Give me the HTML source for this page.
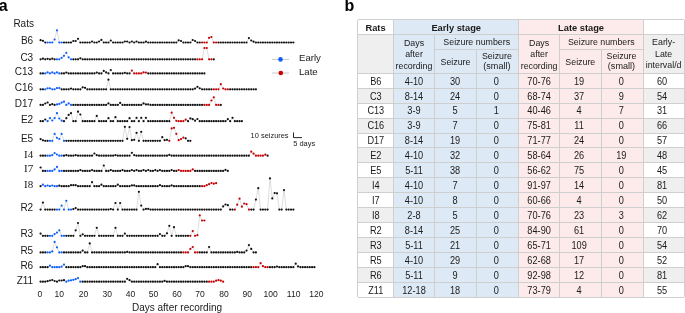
<!DOCTYPE html>
<html><head><meta charset="utf-8"><style>
html,body{margin:0;padding:0;background:#fff;}
svg{display:block;will-change:transform;}
text{font-family:"Liberation Sans",sans-serif;fill:#1a1a1a;}
.pl{font-size:16px;font-weight:bold;fill:#000;}
.lb{font-size:10px;}
.lbs{font-size:11px;font-family:"Liberation Serif",serif;}
.tk{font-size:8.5px;}
.ax{font-size:10px;}
.lg{font-size:9.6px;}
.sb{font-size:8px;}
.th{font-size:9.3px;font-weight:bold;}
.td{font-size:10px;}
.tdh{font-size:9.6px;}
</style></head>
<body>
<svg width="685" height="313" viewBox="0 0 685 313">
<rect width="685" height="313" fill="#fff"/>
<text x="-1.3" y="11.2" class="pl">a</text>
<text x="344.6" y="11.2" class="pl">b</text>
<text x="13.4" y="26.8" class="lb">Rats</text>
<g fill="none" stroke="#c8c8c8" stroke-width="0.6">
<polyline points="40.57,40.20 42.91,40.80 45.25,42.50 47.59,42.50 49.93,42.50 52.27,42.50 54.61,39.50 56.96,30.30 59.30,42.50 61.64,42.50 63.98,42.50 66.32,42.50 68.66,42.50 71.00,42.50 73.34,41.00 75.68,41.00 78.02,38.80 80.36,42.50 82.70,42.50 85.04,42.50 87.38,42.50 89.73,42.50 92.07,41.50 94.41,42.50 96.75,42.50 99.09,41.50 101.43,39.90 103.77,42.50 106.11,42.50 108.45,42.50 110.79,40.50 113.13,42.50 115.47,42.50 117.81,42.50 120.15,42.50 122.50,42.50 124.84,41.50 127.18,41.50 129.52,42.50 131.86,41.50 134.20,42.50 136.54,41.50 138.88,42.50 141.22,42.50 143.56,42.50 145.90,41.70 148.24,42.50 150.58,42.50 152.92,42.50 155.26,42.50 157.61,42.50 159.95,42.50 162.29,42.50 164.63,42.50 166.97,42.50 169.31,42.50 171.65,42.50 173.99,42.50 176.33,42.50 178.67,40.30 181.01,41.00 183.35,42.50 185.69,42.50 188.03,42.50 190.38,42.50 192.72,40.00 195.06,41.00 197.40,42.50 199.74,42.50 202.08,42.50 204.42,42.50 206.76,42.50 209.10,37.80 211.44,37.00 213.78,42.50 216.12,42.50 218.46,42.50 220.80,42.50 223.15,42.50 225.49,42.50 227.83,42.50 230.17,42.50 232.51,42.50 234.85,42.50 237.19,42.50 239.53,42.50 241.87,42.50 244.21,42.50 246.55,42.50 248.89,38.10 251.23,40.50 253.57,41.70 255.92,42.50 258.26,42.50 260.60,42.50 262.94,42.50 265.28,42.50 267.62,42.50 269.96,42.50 272.30,42.50 274.64,42.50 276.98,42.50 279.32,42.50 281.66,42.50 284.00,42.50 286.34,42.50 288.68,42.50 291.03,42.50 293.37,42.50"/>
<polyline points="40.57,59.30 42.91,58.70 45.25,59.30 47.59,58.80 49.93,59.30 52.27,58.70 54.61,59.30 56.96,59.30 59.30,59.30 61.64,57.80 63.98,55.80 66.32,52.80 68.66,57.30 71.00,59.30 73.34,59.30 75.68,59.30 78.02,59.30 80.36,58.30 82.70,59.30 85.04,59.30 87.38,59.30 89.73,59.30 92.07,59.30 94.41,59.30 96.75,59.30 99.09,59.30 101.43,59.30 103.77,59.30 106.11,59.30 108.45,59.30 110.79,59.30 113.13,59.30 115.47,59.30 117.81,59.30 120.15,59.30 122.50,59.30 124.84,59.30 127.18,59.30 129.52,59.30 131.86,59.30 134.20,59.30 136.54,59.30 138.88,59.30 141.22,59.30 143.56,59.30 145.90,59.30 148.24,59.30 150.58,59.30 152.92,59.30 155.26,59.30 157.61,59.30 159.95,59.30 162.29,59.30 164.63,59.30 166.97,59.30 169.31,59.30 171.65,59.30 173.99,59.30 176.33,59.30 178.67,59.30 181.01,59.30 183.35,59.30 185.69,59.30 188.03,59.30 190.38,59.30 192.72,59.30 195.06,59.30 197.40,59.30 199.74,59.30 202.08,59.30 204.42,48.00 206.76,48.00 209.10,59.30 211.44,59.30 213.78,59.30"/>
<polyline points="40.57,73.40 42.91,73.40 45.25,73.40 47.59,72.40 49.93,73.40 52.27,72.40 54.61,73.40 56.96,72.40 59.30,73.40 61.64,73.40 63.98,73.40 66.32,72.60 68.66,73.40 71.00,73.40 73.34,73.40 75.68,73.40 78.02,73.40 80.36,73.40 82.70,73.40 85.04,73.40 87.38,73.40 89.73,73.40 92.07,73.40 94.41,73.40 96.75,72.60 99.09,73.40 101.43,73.40 103.77,70.90 106.11,72.40 108.45,73.40 110.79,70.00 113.13,73.40 115.47,73.40 117.81,73.40 120.15,73.40 122.50,73.40 124.84,72.80 127.18,73.40 129.52,73.40 131.86,70.60 134.20,73.40 136.54,73.40 138.88,73.40 141.22,73.40 143.56,72.40 145.90,72.60 148.24,73.40 150.58,73.40 152.92,73.40 155.26,73.40 157.61,73.40 159.95,73.40 162.29,73.40 164.63,73.40 166.97,73.40 169.31,73.40 171.65,73.40 173.99,73.40 176.33,73.40 178.67,73.40 181.01,73.40 183.35,73.40 185.69,73.40 188.03,73.40 190.38,73.40 192.72,73.40 195.06,73.40 197.40,73.40 199.74,73.40 202.08,73.40 204.42,73.40"/>
<polyline points="40.57,89.30 42.91,89.30 45.25,89.30 47.59,88.30 49.93,88.30 52.27,89.30 54.61,89.30 56.96,88.10 59.30,88.10 61.64,89.30 63.98,89.30 66.32,89.30 68.66,89.30 71.00,88.60 73.34,89.30 75.68,89.30 78.02,89.30 80.36,89.30 82.70,87.30 85.04,87.80 87.38,89.30 89.73,89.30 92.07,89.30 94.41,89.30 96.75,89.30 99.09,89.30 101.43,89.30 103.77,89.30 106.11,89.30 108.45,79.70 110.79,89.30 113.13,89.30 115.47,89.30 117.81,89.30 120.15,89.30 122.50,89.30 124.84,89.30 127.18,89.30 129.52,89.30 131.86,89.30 134.20,89.30 136.54,89.30 138.88,89.30 141.22,89.30 143.56,89.30 145.90,89.30 148.24,89.30 150.58,89.30 152.92,89.30 155.26,89.30 157.61,89.30 159.95,89.30 162.29,89.30 164.63,89.30 166.97,89.30 169.31,89.30 171.65,89.30 173.99,89.30 176.33,89.30 178.67,89.30 181.01,89.30 183.35,89.30 185.69,89.30 188.03,89.30 190.38,89.30 192.72,89.30 195.06,88.60 197.40,86.80 199.74,88.30 202.08,89.30 204.42,89.30 206.76,89.30 209.10,89.30 211.44,89.30 213.78,89.30 216.12,89.30 218.46,89.30 220.80,84.20 223.15,88.50 225.49,89.30 227.83,89.30 230.17,89.30 232.51,89.30 234.85,89.30 237.19,89.30 239.53,89.30 241.87,89.30 244.21,89.30 246.55,89.30 248.89,89.30 251.23,89.30 253.57,89.30 255.92,89.30"/>
<polyline points="40.57,104.90 42.91,104.90 45.25,103.50 47.59,102.50 49.93,104.90 52.27,104.20 54.61,104.90 56.96,104.40 59.30,103.90 61.64,102.60 63.98,101.70 66.32,104.90 68.66,103.40 71.00,104.90 73.34,104.90 75.68,104.90 78.02,104.90 80.36,104.90 82.70,104.90 85.04,104.90 87.38,104.90 89.73,104.90 92.07,104.90 94.41,104.90 96.75,104.90 99.09,104.90 101.43,104.90 103.77,104.90 106.11,104.90 108.45,103.40 110.79,104.90 113.13,104.90 115.47,104.90 117.81,104.90 120.15,102.90 122.50,104.90 124.84,104.90 127.18,104.90 129.52,104.90 131.86,104.90 134.20,104.90 136.54,104.90 138.88,104.90 141.22,104.90 143.56,103.40 145.90,104.40 148.24,104.40 150.58,104.90 152.92,104.90 155.26,104.90 157.61,104.90 159.95,104.90 162.29,104.90 164.63,104.90 166.97,104.90 169.31,104.90 171.65,104.90 173.99,104.90 176.33,104.90 178.67,104.90 181.01,104.90 183.35,104.90 185.69,104.90 188.03,104.90 190.38,104.90 192.72,104.90 195.06,104.90 197.40,104.90 199.74,104.90 202.08,104.90 204.42,104.90 206.76,104.90 209.10,104.90 211.44,100.50 213.78,97.30 216.12,104.90 218.46,104.90 220.80,104.90"/>
<polyline points="40.57,121.20 42.91,121.20 45.25,119.50 47.59,121.20 49.93,118.20 52.27,120.50 54.61,118.20 56.96,113.20 59.30,118.50 61.64,120.70 63.98,121.20 66.32,118.20 68.66,114.90 71.00,113.20 73.34,121.20 75.68,121.20 78.02,111.70 80.36,114.50 82.70,121.20 85.04,121.20 87.38,121.20 89.73,121.20 92.07,121.20 94.41,121.20 96.75,115.90 99.09,121.20 101.43,121.20 103.77,121.20 106.11,121.20 108.45,118.20 110.79,121.20 113.13,121.20 115.47,117.20 117.81,121.20 120.15,121.20 122.50,121.20 124.84,121.20 127.18,121.20 129.52,118.20 131.86,121.20 134.20,121.20 136.54,117.80 138.88,121.20 141.22,117.80 143.56,121.20 145.90,117.80 148.24,121.20 150.58,121.20 152.92,121.20 155.26,121.20 157.61,121.20 159.95,121.20 162.29,121.20 164.63,121.20 166.97,121.20 169.31,121.20 171.65,112.70 173.99,117.80 176.33,120.80 178.67,121.20 181.01,121.20 183.35,121.20 185.69,119.70 188.03,121.20 190.38,118.40 192.72,119.20 195.06,120.70 197.40,119.00 199.74,121.20 202.08,121.20 204.42,121.20 206.76,121.20 209.10,121.20 211.44,121.20 213.78,121.20 216.12,121.20 218.46,121.20 220.80,121.20 223.15,121.20 225.49,121.20 227.83,119.20 230.17,121.20 232.51,117.80 234.85,121.20 237.19,121.20 239.53,121.20 241.87,121.20"/>
<polyline points="40.57,139.10 42.91,140.30 45.25,140.80 47.59,140.80 49.93,140.80 52.27,140.80 54.61,133.90 56.96,137.80 59.30,139.00 61.64,133.90 63.98,140.80 66.32,140.80 68.66,140.80 71.00,140.80 73.34,140.80 75.68,140.80 78.02,140.80 80.36,140.80 82.70,140.80 85.04,140.80 87.38,140.80 89.73,140.80 92.07,140.80 94.41,140.80 96.75,140.80 99.09,140.80 101.43,140.80 103.77,140.80 106.11,140.80 108.45,140.80 110.79,140.80 113.13,140.80 115.47,140.80 117.81,140.80 120.15,140.80 122.50,140.80 124.84,126.80 127.18,138.80 129.52,127.10 131.86,140.20 134.20,139.80 136.54,132.80 138.88,140.80 141.22,131.80 143.56,140.80 145.90,140.80 148.24,140.80 150.58,140.80 152.92,140.80 155.26,140.80 157.61,140.80 159.95,140.80 162.29,137.20 164.63,140.20 166.97,139.80 169.31,140.80 171.65,128.40 173.99,127.80 176.33,133.80 178.67,140.20 181.01,139.10 183.35,137.60 185.69,138.30 188.03,140.80 190.38,140.80"/>
<polyline points="40.57,155.70 42.91,155.70 45.25,155.70 47.59,155.70 49.93,155.70 52.27,155.20 54.61,153.10 56.96,154.50 59.30,155.70 61.64,155.70 63.98,155.70 66.32,155.20 68.66,155.70 71.00,155.70 73.34,155.70 75.68,155.20 78.02,155.70 80.36,155.70 82.70,155.70 85.04,155.70 87.38,155.70 89.73,155.70 92.07,155.70 94.41,153.50 96.75,155.20 99.09,155.70 101.43,155.70 103.77,155.70 106.11,155.70 108.45,155.70 110.79,155.70 113.13,155.70 115.47,155.20 117.81,155.70 120.15,155.70 122.50,155.70 124.84,155.70 127.18,155.70 129.52,155.70 131.86,152.80 134.20,155.20 136.54,155.70 138.88,155.70 141.22,155.70 143.56,155.70 145.90,155.70 148.24,155.70 150.58,155.70 152.92,155.70 155.26,155.70 157.61,155.70 159.95,155.70 162.29,155.70 164.63,155.70 166.97,155.70 169.31,154.90 171.65,155.70 173.99,155.70 176.33,155.70 178.67,155.70 181.01,155.70 183.35,155.70 185.69,155.70 188.03,155.70 190.38,155.70 192.72,155.70 195.06,155.70 197.40,155.70 199.74,155.70 202.08,155.70 204.42,155.70 206.76,155.70 209.10,155.70 211.44,155.70 213.78,155.70 216.12,155.70 218.46,155.70 220.80,155.70 223.15,155.70 225.49,155.70 227.83,155.70 230.17,155.70 232.51,155.70 234.85,155.70 237.19,155.70 239.53,155.70 241.87,155.70 244.21,155.70 246.55,155.70 248.89,155.70 251.23,151.70 253.57,153.70 255.92,155.70 258.26,155.70 260.60,155.70 262.94,155.70 265.28,154.70 267.62,155.70"/>
<polyline points="40.57,167.50 42.91,170.90 45.25,170.90 47.59,170.90 49.93,170.90 52.27,170.90 54.61,169.40 56.96,166.90 59.30,170.90 61.64,170.90 63.98,170.90 66.32,170.90 68.66,170.90 71.00,170.90 73.34,170.90 75.68,170.90 78.02,170.90 80.36,170.10 82.70,170.90 85.04,170.90 87.38,170.90 89.73,170.90 92.07,170.10 94.41,170.90 96.75,170.90 99.09,170.90 101.43,170.90 103.77,165.50 106.11,170.90 108.45,170.90 110.79,170.10 113.13,170.90 115.47,170.90 117.81,170.90 120.15,170.90 122.50,170.10 124.84,170.90 127.18,170.90 129.52,170.90 131.86,170.10 134.20,170.90 136.54,170.10 138.88,170.90 141.22,170.90 143.56,170.10 145.90,170.90 148.24,170.10 150.58,170.90 152.92,170.90 155.26,170.10 157.61,170.90 159.95,170.10 162.29,170.90 164.63,170.90 166.97,170.90 169.31,170.90 171.65,170.10 173.99,170.90 176.33,170.90 178.67,170.10 181.01,170.90 183.35,170.90 185.69,170.90 188.03,170.90 190.38,170.90 192.72,169.40 195.06,170.90 197.40,170.90 199.74,170.90 202.08,170.90 204.42,170.90 206.76,170.90 209.10,170.90 211.44,170.90 213.78,170.90 216.12,170.90 218.46,170.90 220.80,170.90 223.15,170.90 225.49,169.90 227.83,170.90"/>
<polyline points="40.57,186.20 42.91,184.70 45.25,186.20 47.59,185.50 49.93,186.20 52.27,185.50 54.61,186.20 56.96,186.20 59.30,185.70 61.64,186.20 63.98,186.20 66.32,186.20 68.66,186.20 71.00,185.20 73.34,185.20 75.68,185.20 78.02,186.20 80.36,186.20 82.70,186.20 85.04,186.20 87.38,186.20 89.73,186.20 92.07,182.20 94.41,186.20 96.75,186.20 99.09,186.20 101.43,184.70 103.77,186.20 106.11,186.20 108.45,186.20 110.79,186.20 113.13,186.20 115.47,186.20 117.81,184.70 120.15,186.20 122.50,186.20 124.84,186.20 127.18,186.20 129.52,186.20 131.86,185.40 134.20,185.40 136.54,186.20 138.88,186.20 141.22,186.20 143.56,186.20 145.90,186.20 148.24,186.20 150.58,186.20 152.92,186.20 155.26,186.20 157.61,186.20 159.95,185.20 162.29,186.20 164.63,186.20 166.97,186.20 169.31,186.20 171.65,185.40 173.99,186.20 176.33,186.20 178.67,186.20 181.01,186.20 183.35,186.20 185.69,186.20 188.03,186.20 190.38,186.20 192.72,186.20 195.06,186.20 197.40,186.20 199.74,186.20 202.08,186.20 204.42,186.20 206.76,185.20 209.10,184.20 211.44,183.00 213.78,183.70 216.12,183.20"/>
<polyline points="40.57,209.60 42.91,202.60 45.25,209.60 47.59,209.60 49.93,209.60 52.27,209.60 54.61,209.60 56.96,209.60 59.30,209.60 61.64,205.60 63.98,209.60 66.32,200.80 68.66,209.60 71.00,209.60 73.34,209.10 75.68,208.10 78.02,209.60 80.36,209.60 82.70,209.60 85.04,209.60 87.38,209.60 89.73,209.60 92.07,209.60 94.41,209.60 96.75,209.60 99.09,209.60 101.43,209.60 103.77,209.60 106.11,209.60 108.45,209.60 110.79,209.10 113.13,209.60 115.47,203.00 117.81,209.60 120.15,203.00 122.50,209.60 124.84,209.60 127.18,209.60 129.52,209.60 131.86,209.60 134.20,209.60 136.54,209.60 138.88,191.80 141.22,205.60 143.56,209.60 145.90,208.90 148.24,208.90 150.58,209.60 152.92,209.60 155.26,209.60 157.61,209.60 159.95,209.60 162.29,209.60 164.63,209.60 166.97,209.60 169.31,209.60 171.65,209.60 173.99,209.60 176.33,209.60 178.67,209.60 181.01,209.60 183.35,209.60 185.69,209.60 188.03,209.60 190.38,209.60 192.72,209.60 195.06,209.60 197.40,209.60 199.74,209.60 202.08,209.60 204.42,209.60 206.76,209.60 209.10,209.60 211.44,209.60 213.78,209.60 216.12,209.60 218.46,209.60 220.80,209.60 223.15,206.40 225.49,204.50 227.83,205.20 230.17,209.60 232.51,209.60 234.85,209.60 237.19,204.70 239.53,198.70 241.87,206.70 244.21,203.50 246.55,204.20 248.89,209.60 251.23,209.60 253.57,209.60 255.92,199.60 258.26,188.20 260.60,209.60 262.94,209.60 265.28,209.60 267.62,209.60 269.96,178.40 272.30,198.40 274.64,193.00 276.98,193.30 279.32,209.60 281.66,209.60 284.00,190.10 286.34,209.60 288.68,209.60 291.03,209.60 293.37,209.60"/>
<polyline points="40.57,233.60 42.91,235.80 45.25,235.80 47.59,235.80 49.93,235.80 52.27,235.80 54.61,234.10 56.96,232.60 59.30,230.30 61.64,235.80 63.98,235.80 66.32,235.80 68.66,235.80 71.00,235.80 73.34,235.80 75.68,230.30 78.02,223.00 80.36,235.80 82.70,234.30 85.04,235.80 87.38,235.80 89.73,235.80 92.07,235.80 94.41,235.80 96.75,227.80 99.09,235.80 101.43,235.80 103.77,235.80 106.11,235.80 108.45,235.80 110.79,235.80 113.13,235.80 115.47,227.80 117.81,235.80 120.15,235.80 122.50,235.80 124.84,233.60 127.18,235.80 129.52,235.80 131.86,235.80 134.20,235.80 136.54,235.80 138.88,235.80 141.22,235.80 143.56,235.80 145.90,235.80 148.24,235.80 150.58,235.80 152.92,235.80 155.26,235.80 157.61,235.80 159.95,234.10 162.29,235.80 164.63,235.80 166.97,233.30 169.31,225.80 171.65,235.80 173.99,227.20 176.33,235.80 178.67,235.80 181.01,235.80 183.35,235.80 185.69,235.80 188.03,235.80 190.38,235.80 192.72,231.10 195.06,235.80 197.40,235.20 199.74,215.30 202.08,220.50 204.42,220.50"/>
<polyline points="40.57,252.40 42.91,252.40 45.25,252.40 47.59,252.40 49.93,252.40 52.27,251.40 54.61,241.90 56.96,247.30 59.30,252.40 61.64,252.40 63.98,252.40 66.32,252.40 68.66,252.40 71.00,252.40 73.34,252.40 75.68,252.40 78.02,252.40 80.36,252.40 82.70,250.60 85.04,252.40 87.38,252.40 89.73,243.40 92.07,252.40 94.41,252.40 96.75,252.40 99.09,252.40 101.43,252.40 103.77,252.40 106.11,252.40 108.45,252.40 110.79,252.40 113.13,252.40 115.47,252.40 117.81,252.40 120.15,252.40 122.50,252.40 124.84,252.40 127.18,251.90 129.52,252.40 131.86,252.40 134.20,252.40 136.54,252.40 138.88,252.40 141.22,252.40 143.56,252.40 145.90,252.40 148.24,252.40 150.58,252.40 152.92,252.40 155.26,252.40 157.61,252.40 159.95,252.40 162.29,252.40 164.63,252.40 166.97,252.40 169.31,252.40 171.65,252.40 173.99,252.40 176.33,252.40 178.67,252.40 181.01,252.40 183.35,252.40 185.69,252.40 188.03,252.40 190.38,248.90 192.72,247.00 195.06,252.40 197.40,252.40 199.74,252.40 202.08,252.40 204.42,252.40 206.76,252.40 209.10,247.00 211.44,252.40 213.78,252.40 216.12,252.40 218.46,252.40 220.80,252.40 223.15,252.40 225.49,252.40 227.83,252.40 230.17,252.40 232.51,252.40 234.85,252.40 237.19,251.90 239.53,252.40 241.87,252.40 244.21,252.40 246.55,250.60 248.89,245.10 251.23,248.90 253.57,252.40 255.92,252.40"/>
<polyline points="40.57,267.20 42.91,267.20 45.25,267.20 47.59,267.20 49.93,265.70 52.27,267.20 54.61,267.20 56.96,267.20 59.30,267.20 61.64,266.70 63.98,264.60 66.32,267.20 68.66,267.20 71.00,267.20 73.34,267.20 75.68,267.20 78.02,267.20 80.36,267.20 82.70,266.20 85.04,266.20 87.38,267.20 89.73,267.20 92.07,267.20 94.41,267.20 96.75,267.20 99.09,267.20 101.43,267.20 103.77,267.20 106.11,267.20 108.45,267.20 110.79,267.20 113.13,267.20 115.47,267.20 117.81,267.20 120.15,267.20 122.50,267.20 124.84,267.20 127.18,267.20 129.52,267.20 131.86,267.20 134.20,267.20 136.54,267.20 138.88,267.20 141.22,267.20 143.56,267.20 145.90,267.20 148.24,267.20 150.58,267.20 152.92,267.20 155.26,267.20 157.61,264.20 159.95,267.20 162.29,267.20 164.63,267.20 166.97,267.20 169.31,267.20 171.65,267.20 173.99,267.20 176.33,267.20 178.67,267.20 181.01,267.20 183.35,267.20 185.69,266.20 188.03,266.20 190.38,267.20 192.72,267.20 195.06,267.20 197.40,267.20 199.74,267.20 202.08,267.20 204.42,267.20 206.76,267.20 209.10,267.20 211.44,267.20 213.78,267.20 216.12,267.20 218.46,267.20 220.80,267.20 223.15,267.20 225.49,267.20 227.83,267.20 230.17,267.20 232.51,267.20 234.85,267.20 237.19,267.20 239.53,267.20 241.87,267.20 244.21,267.20 246.55,267.20 248.89,267.20 251.23,267.20 253.57,267.20 255.92,267.20 258.26,267.20 260.60,263.20 262.94,266.20 265.28,267.20 267.62,267.20 269.96,267.20 272.30,267.20 274.64,267.20 276.98,266.60 279.32,267.20 281.66,267.20 284.00,267.20 286.34,267.20 288.68,267.20 291.03,267.20 293.37,267.20 295.71,263.70 298.05,266.40 300.39,267.20 302.73,267.20 305.07,267.20 307.41,267.20 309.75,267.20 312.09,267.20 314.43,267.20"/>
<polyline points="40.57,281.70 42.91,281.70 45.25,281.70 47.59,281.20 49.93,280.50 52.27,280.00 54.61,281.00 56.96,281.70 59.30,280.50 61.64,280.50 63.98,280.20 66.32,281.70 68.66,280.70 71.00,280.30 73.34,279.80 75.68,279.20 78.02,278.10 80.36,281.70 82.70,281.70 85.04,281.70 87.38,281.70 89.73,281.70 92.07,281.70 94.41,281.70 96.75,281.70 99.09,281.70 101.43,281.70 103.77,281.70 106.11,281.70 108.45,281.70 110.79,281.70 113.13,281.70 115.47,281.70 117.81,281.70 120.15,281.70 122.50,281.70 124.84,281.70 127.18,278.80 129.52,280.20 131.86,281.70 134.20,281.70 136.54,281.70 138.88,281.70 141.22,281.70 143.56,281.70 145.90,281.70 148.24,281.70 150.58,281.70 152.92,281.70 155.26,281.70 157.61,281.70 159.95,281.70 162.29,281.70 164.63,280.90 166.97,281.70 169.31,281.70 171.65,281.70 173.99,281.70 176.33,281.70 178.67,281.70 181.01,281.70 183.35,281.70 185.69,281.70 188.03,281.70 190.38,281.70 192.72,281.70 195.06,281.70 197.40,281.70 199.74,281.70 202.08,281.70 204.42,281.70 206.76,281.70 209.10,281.70 211.44,281.70 213.78,281.70 216.12,280.70 218.46,280.20 220.80,280.70 223.15,281.70"/>
</g>
<g fill="#111">
<circle cx="40.57" cy="40.20" r="1.10"/>
<circle cx="42.91" cy="40.80" r="1.10"/>
<circle cx="45.25" cy="42.50" r="1.10"/>
<circle cx="63.98" cy="42.50" r="1.10"/>
<circle cx="66.32" cy="42.50" r="1.10"/>
<circle cx="68.66" cy="42.50" r="1.10"/>
<circle cx="71.00" cy="42.50" r="1.10"/>
<circle cx="73.34" cy="41.00" r="1.10"/>
<circle cx="75.68" cy="41.00" r="1.10"/>
<circle cx="78.02" cy="38.80" r="1.10"/>
<circle cx="80.36" cy="42.50" r="1.10"/>
<circle cx="82.70" cy="42.50" r="1.10"/>
<circle cx="85.04" cy="42.50" r="1.10"/>
<circle cx="87.38" cy="42.50" r="1.10"/>
<circle cx="89.73" cy="42.50" r="1.10"/>
<circle cx="92.07" cy="41.50" r="1.10"/>
<circle cx="94.41" cy="42.50" r="1.10"/>
<circle cx="96.75" cy="42.50" r="1.10"/>
<circle cx="99.09" cy="41.50" r="1.10"/>
<circle cx="101.43" cy="39.90" r="1.10"/>
<circle cx="103.77" cy="42.50" r="1.10"/>
<circle cx="106.11" cy="42.50" r="1.10"/>
<circle cx="108.45" cy="42.50" r="1.10"/>
<circle cx="110.79" cy="40.50" r="1.10"/>
<circle cx="113.13" cy="42.50" r="1.10"/>
<circle cx="115.47" cy="42.50" r="1.10"/>
<circle cx="117.81" cy="42.50" r="1.10"/>
<circle cx="120.15" cy="42.50" r="1.10"/>
<circle cx="122.50" cy="42.50" r="1.10"/>
<circle cx="124.84" cy="41.50" r="1.10"/>
<circle cx="127.18" cy="41.50" r="1.10"/>
<circle cx="129.52" cy="42.50" r="1.10"/>
<circle cx="131.86" cy="41.50" r="1.10"/>
<circle cx="134.20" cy="42.50" r="1.10"/>
<circle cx="136.54" cy="41.50" r="1.10"/>
<circle cx="138.88" cy="42.50" r="1.10"/>
<circle cx="141.22" cy="42.50" r="1.10"/>
<circle cx="143.56" cy="42.50" r="1.10"/>
<circle cx="145.90" cy="41.70" r="1.10"/>
<circle cx="148.24" cy="42.50" r="1.10"/>
<circle cx="150.58" cy="42.50" r="1.10"/>
<circle cx="152.92" cy="42.50" r="1.10"/>
<circle cx="155.26" cy="42.50" r="1.10"/>
<circle cx="157.61" cy="42.50" r="1.10"/>
<circle cx="159.95" cy="42.50" r="1.10"/>
<circle cx="162.29" cy="42.50" r="1.10"/>
<circle cx="164.63" cy="42.50" r="1.10"/>
<circle cx="166.97" cy="42.50" r="1.10"/>
<circle cx="169.31" cy="42.50" r="1.10"/>
<circle cx="171.65" cy="42.50" r="1.10"/>
<circle cx="173.99" cy="42.50" r="1.10"/>
<circle cx="176.33" cy="42.50" r="1.10"/>
<circle cx="178.67" cy="40.30" r="1.10"/>
<circle cx="181.01" cy="41.00" r="1.10"/>
<circle cx="183.35" cy="42.50" r="1.10"/>
<circle cx="185.69" cy="42.50" r="1.10"/>
<circle cx="188.03" cy="42.50" r="1.10"/>
<circle cx="190.38" cy="42.50" r="1.10"/>
<circle cx="192.72" cy="40.00" r="1.10"/>
<circle cx="195.06" cy="41.00" r="1.10"/>
<circle cx="197.40" cy="42.50" r="1.10"/>
<circle cx="199.74" cy="42.50" r="1.10"/>
<circle cx="218.46" cy="42.50" r="1.10"/>
<circle cx="220.80" cy="42.50" r="1.10"/>
<circle cx="223.15" cy="42.50" r="1.10"/>
<circle cx="225.49" cy="42.50" r="1.10"/>
<circle cx="227.83" cy="42.50" r="1.10"/>
<circle cx="230.17" cy="42.50" r="1.10"/>
<circle cx="232.51" cy="42.50" r="1.10"/>
<circle cx="234.85" cy="42.50" r="1.10"/>
<circle cx="237.19" cy="42.50" r="1.10"/>
<circle cx="239.53" cy="42.50" r="1.10"/>
<circle cx="241.87" cy="42.50" r="1.10"/>
<circle cx="244.21" cy="42.50" r="1.10"/>
<circle cx="246.55" cy="42.50" r="1.10"/>
<circle cx="248.89" cy="38.10" r="1.10"/>
<circle cx="251.23" cy="40.50" r="1.10"/>
<circle cx="253.57" cy="41.70" r="1.10"/>
<circle cx="255.92" cy="42.50" r="1.10"/>
<circle cx="258.26" cy="42.50" r="1.10"/>
<circle cx="260.60" cy="42.50" r="1.10"/>
<circle cx="262.94" cy="42.50" r="1.10"/>
<circle cx="265.28" cy="42.50" r="1.10"/>
<circle cx="267.62" cy="42.50" r="1.10"/>
<circle cx="269.96" cy="42.50" r="1.10"/>
<circle cx="272.30" cy="42.50" r="1.10"/>
<circle cx="274.64" cy="42.50" r="1.10"/>
<circle cx="276.98" cy="42.50" r="1.10"/>
<circle cx="279.32" cy="42.50" r="1.10"/>
<circle cx="281.66" cy="42.50" r="1.10"/>
<circle cx="284.00" cy="42.50" r="1.10"/>
<circle cx="286.34" cy="42.50" r="1.10"/>
<circle cx="288.68" cy="42.50" r="1.10"/>
<circle cx="291.03" cy="42.50" r="1.10"/>
<circle cx="293.37" cy="42.50" r="1.10"/>
<circle cx="40.57" cy="59.30" r="1.10"/>
<circle cx="42.91" cy="58.70" r="1.10"/>
<circle cx="45.25" cy="59.30" r="1.10"/>
<circle cx="47.59" cy="58.80" r="1.10"/>
<circle cx="49.93" cy="59.30" r="1.10"/>
<circle cx="52.27" cy="58.70" r="1.10"/>
<circle cx="54.61" cy="59.30" r="1.10"/>
<circle cx="73.34" cy="59.30" r="1.10"/>
<circle cx="75.68" cy="59.30" r="1.10"/>
<circle cx="78.02" cy="59.30" r="1.10"/>
<circle cx="80.36" cy="58.30" r="1.10"/>
<circle cx="82.70" cy="59.30" r="1.10"/>
<circle cx="85.04" cy="59.30" r="1.10"/>
<circle cx="87.38" cy="59.30" r="1.10"/>
<circle cx="89.73" cy="59.30" r="1.10"/>
<circle cx="92.07" cy="59.30" r="1.10"/>
<circle cx="94.41" cy="59.30" r="1.10"/>
<circle cx="96.75" cy="59.30" r="1.10"/>
<circle cx="99.09" cy="59.30" r="1.10"/>
<circle cx="101.43" cy="59.30" r="1.10"/>
<circle cx="103.77" cy="59.30" r="1.10"/>
<circle cx="106.11" cy="59.30" r="1.10"/>
<circle cx="108.45" cy="59.30" r="1.10"/>
<circle cx="110.79" cy="59.30" r="1.10"/>
<circle cx="113.13" cy="59.30" r="1.10"/>
<circle cx="115.47" cy="59.30" r="1.10"/>
<circle cx="117.81" cy="59.30" r="1.10"/>
<circle cx="120.15" cy="59.30" r="1.10"/>
<circle cx="122.50" cy="59.30" r="1.10"/>
<circle cx="124.84" cy="59.30" r="1.10"/>
<circle cx="127.18" cy="59.30" r="1.10"/>
<circle cx="129.52" cy="59.30" r="1.10"/>
<circle cx="131.86" cy="59.30" r="1.10"/>
<circle cx="134.20" cy="59.30" r="1.10"/>
<circle cx="136.54" cy="59.30" r="1.10"/>
<circle cx="138.88" cy="59.30" r="1.10"/>
<circle cx="141.22" cy="59.30" r="1.10"/>
<circle cx="143.56" cy="59.30" r="1.10"/>
<circle cx="145.90" cy="59.30" r="1.10"/>
<circle cx="148.24" cy="59.30" r="1.10"/>
<circle cx="150.58" cy="59.30" r="1.10"/>
<circle cx="152.92" cy="59.30" r="1.10"/>
<circle cx="155.26" cy="59.30" r="1.10"/>
<circle cx="157.61" cy="59.30" r="1.10"/>
<circle cx="159.95" cy="59.30" r="1.10"/>
<circle cx="162.29" cy="59.30" r="1.10"/>
<circle cx="164.63" cy="59.30" r="1.10"/>
<circle cx="166.97" cy="59.30" r="1.10"/>
<circle cx="169.31" cy="59.30" r="1.10"/>
<circle cx="171.65" cy="59.30" r="1.10"/>
<circle cx="173.99" cy="59.30" r="1.10"/>
<circle cx="176.33" cy="59.30" r="1.10"/>
<circle cx="178.67" cy="59.30" r="1.10"/>
<circle cx="181.01" cy="59.30" r="1.10"/>
<circle cx="183.35" cy="59.30" r="1.10"/>
<circle cx="185.69" cy="59.30" r="1.10"/>
<circle cx="188.03" cy="59.30" r="1.10"/>
<circle cx="190.38" cy="59.30" r="1.10"/>
<circle cx="192.72" cy="59.30" r="1.10"/>
<circle cx="195.06" cy="59.30" r="1.10"/>
<circle cx="213.78" cy="59.30" r="1.10"/>
<circle cx="40.57" cy="73.40" r="1.10"/>
<circle cx="42.91" cy="73.40" r="1.10"/>
<circle cx="61.64" cy="73.40" r="1.10"/>
<circle cx="63.98" cy="73.40" r="1.10"/>
<circle cx="66.32" cy="72.60" r="1.10"/>
<circle cx="68.66" cy="73.40" r="1.10"/>
<circle cx="71.00" cy="73.40" r="1.10"/>
<circle cx="73.34" cy="73.40" r="1.10"/>
<circle cx="75.68" cy="73.40" r="1.10"/>
<circle cx="78.02" cy="73.40" r="1.10"/>
<circle cx="80.36" cy="73.40" r="1.10"/>
<circle cx="82.70" cy="73.40" r="1.10"/>
<circle cx="85.04" cy="73.40" r="1.10"/>
<circle cx="87.38" cy="73.40" r="1.10"/>
<circle cx="89.73" cy="73.40" r="1.10"/>
<circle cx="92.07" cy="73.40" r="1.10"/>
<circle cx="94.41" cy="73.40" r="1.10"/>
<circle cx="96.75" cy="72.60" r="1.10"/>
<circle cx="99.09" cy="73.40" r="1.10"/>
<circle cx="101.43" cy="73.40" r="1.10"/>
<circle cx="103.77" cy="70.90" r="1.10"/>
<circle cx="106.11" cy="72.40" r="1.10"/>
<circle cx="108.45" cy="73.40" r="1.10"/>
<circle cx="110.79" cy="70.00" r="1.10"/>
<circle cx="113.13" cy="73.40" r="1.10"/>
<circle cx="115.47" cy="73.40" r="1.10"/>
<circle cx="117.81" cy="73.40" r="1.10"/>
<circle cx="120.15" cy="73.40" r="1.10"/>
<circle cx="122.50" cy="73.40" r="1.10"/>
<circle cx="124.84" cy="72.80" r="1.10"/>
<circle cx="127.18" cy="73.40" r="1.10"/>
<circle cx="129.52" cy="73.40" r="1.10"/>
<circle cx="148.24" cy="73.40" r="1.10"/>
<circle cx="150.58" cy="73.40" r="1.10"/>
<circle cx="152.92" cy="73.40" r="1.10"/>
<circle cx="155.26" cy="73.40" r="1.10"/>
<circle cx="157.61" cy="73.40" r="1.10"/>
<circle cx="159.95" cy="73.40" r="1.10"/>
<circle cx="162.29" cy="73.40" r="1.10"/>
<circle cx="164.63" cy="73.40" r="1.10"/>
<circle cx="166.97" cy="73.40" r="1.10"/>
<circle cx="169.31" cy="73.40" r="1.10"/>
<circle cx="171.65" cy="73.40" r="1.10"/>
<circle cx="173.99" cy="73.40" r="1.10"/>
<circle cx="176.33" cy="73.40" r="1.10"/>
<circle cx="178.67" cy="73.40" r="1.10"/>
<circle cx="181.01" cy="73.40" r="1.10"/>
<circle cx="183.35" cy="73.40" r="1.10"/>
<circle cx="185.69" cy="73.40" r="1.10"/>
<circle cx="188.03" cy="73.40" r="1.10"/>
<circle cx="190.38" cy="73.40" r="1.10"/>
<circle cx="192.72" cy="73.40" r="1.10"/>
<circle cx="195.06" cy="73.40" r="1.10"/>
<circle cx="197.40" cy="73.40" r="1.10"/>
<circle cx="199.74" cy="73.40" r="1.10"/>
<circle cx="202.08" cy="73.40" r="1.10"/>
<circle cx="204.42" cy="73.40" r="1.10"/>
<circle cx="40.57" cy="89.30" r="1.10"/>
<circle cx="42.91" cy="89.30" r="1.10"/>
<circle cx="61.64" cy="89.30" r="1.10"/>
<circle cx="63.98" cy="89.30" r="1.10"/>
<circle cx="66.32" cy="89.30" r="1.10"/>
<circle cx="68.66" cy="89.30" r="1.10"/>
<circle cx="71.00" cy="88.60" r="1.10"/>
<circle cx="73.34" cy="89.30" r="1.10"/>
<circle cx="75.68" cy="89.30" r="1.10"/>
<circle cx="78.02" cy="89.30" r="1.10"/>
<circle cx="80.36" cy="89.30" r="1.10"/>
<circle cx="82.70" cy="87.30" r="1.10"/>
<circle cx="85.04" cy="87.80" r="1.10"/>
<circle cx="87.38" cy="89.30" r="1.10"/>
<circle cx="89.73" cy="89.30" r="1.10"/>
<circle cx="92.07" cy="89.30" r="1.10"/>
<circle cx="94.41" cy="89.30" r="1.10"/>
<circle cx="96.75" cy="89.30" r="1.10"/>
<circle cx="99.09" cy="89.30" r="1.10"/>
<circle cx="101.43" cy="89.30" r="1.10"/>
<circle cx="103.77" cy="89.30" r="1.10"/>
<circle cx="106.11" cy="89.30" r="1.10"/>
<circle cx="108.45" cy="79.70" r="1.10"/>
<circle cx="110.79" cy="89.30" r="1.10"/>
<circle cx="113.13" cy="89.30" r="1.10"/>
<circle cx="115.47" cy="89.30" r="1.10"/>
<circle cx="117.81" cy="89.30" r="1.10"/>
<circle cx="120.15" cy="89.30" r="1.10"/>
<circle cx="122.50" cy="89.30" r="1.10"/>
<circle cx="124.84" cy="89.30" r="1.10"/>
<circle cx="127.18" cy="89.30" r="1.10"/>
<circle cx="129.52" cy="89.30" r="1.10"/>
<circle cx="131.86" cy="89.30" r="1.10"/>
<circle cx="134.20" cy="89.30" r="1.10"/>
<circle cx="136.54" cy="89.30" r="1.10"/>
<circle cx="138.88" cy="89.30" r="1.10"/>
<circle cx="141.22" cy="89.30" r="1.10"/>
<circle cx="143.56" cy="89.30" r="1.10"/>
<circle cx="145.90" cy="89.30" r="1.10"/>
<circle cx="148.24" cy="89.30" r="1.10"/>
<circle cx="150.58" cy="89.30" r="1.10"/>
<circle cx="152.92" cy="89.30" r="1.10"/>
<circle cx="155.26" cy="89.30" r="1.10"/>
<circle cx="157.61" cy="89.30" r="1.10"/>
<circle cx="159.95" cy="89.30" r="1.10"/>
<circle cx="162.29" cy="89.30" r="1.10"/>
<circle cx="164.63" cy="89.30" r="1.10"/>
<circle cx="166.97" cy="89.30" r="1.10"/>
<circle cx="169.31" cy="89.30" r="1.10"/>
<circle cx="171.65" cy="89.30" r="1.10"/>
<circle cx="173.99" cy="89.30" r="1.10"/>
<circle cx="176.33" cy="89.30" r="1.10"/>
<circle cx="178.67" cy="89.30" r="1.10"/>
<circle cx="181.01" cy="89.30" r="1.10"/>
<circle cx="183.35" cy="89.30" r="1.10"/>
<circle cx="185.69" cy="89.30" r="1.10"/>
<circle cx="188.03" cy="89.30" r="1.10"/>
<circle cx="190.38" cy="89.30" r="1.10"/>
<circle cx="192.72" cy="89.30" r="1.10"/>
<circle cx="195.06" cy="88.60" r="1.10"/>
<circle cx="197.40" cy="86.80" r="1.10"/>
<circle cx="199.74" cy="88.30" r="1.10"/>
<circle cx="202.08" cy="89.30" r="1.10"/>
<circle cx="204.42" cy="89.30" r="1.10"/>
<circle cx="206.76" cy="89.30" r="1.10"/>
<circle cx="209.10" cy="89.30" r="1.10"/>
<circle cx="211.44" cy="89.30" r="1.10"/>
<circle cx="230.17" cy="89.30" r="1.10"/>
<circle cx="232.51" cy="89.30" r="1.10"/>
<circle cx="234.85" cy="89.30" r="1.10"/>
<circle cx="237.19" cy="89.30" r="1.10"/>
<circle cx="239.53" cy="89.30" r="1.10"/>
<circle cx="241.87" cy="89.30" r="1.10"/>
<circle cx="244.21" cy="89.30" r="1.10"/>
<circle cx="246.55" cy="89.30" r="1.10"/>
<circle cx="248.89" cy="89.30" r="1.10"/>
<circle cx="251.23" cy="89.30" r="1.10"/>
<circle cx="253.57" cy="89.30" r="1.10"/>
<circle cx="255.92" cy="89.30" r="1.10"/>
<circle cx="40.57" cy="104.90" r="1.10"/>
<circle cx="42.91" cy="104.90" r="1.10"/>
<circle cx="45.25" cy="103.50" r="1.10"/>
<circle cx="47.59" cy="102.50" r="1.10"/>
<circle cx="49.93" cy="104.90" r="1.10"/>
<circle cx="52.27" cy="104.20" r="1.10"/>
<circle cx="54.61" cy="104.90" r="1.10"/>
<circle cx="73.34" cy="104.90" r="1.10"/>
<circle cx="75.68" cy="104.90" r="1.10"/>
<circle cx="78.02" cy="104.90" r="1.10"/>
<circle cx="80.36" cy="104.90" r="1.10"/>
<circle cx="82.70" cy="104.90" r="1.10"/>
<circle cx="85.04" cy="104.90" r="1.10"/>
<circle cx="87.38" cy="104.90" r="1.10"/>
<circle cx="89.73" cy="104.90" r="1.10"/>
<circle cx="92.07" cy="104.90" r="1.10"/>
<circle cx="94.41" cy="104.90" r="1.10"/>
<circle cx="96.75" cy="104.90" r="1.10"/>
<circle cx="99.09" cy="104.90" r="1.10"/>
<circle cx="101.43" cy="104.90" r="1.10"/>
<circle cx="103.77" cy="104.90" r="1.10"/>
<circle cx="106.11" cy="104.90" r="1.10"/>
<circle cx="108.45" cy="103.40" r="1.10"/>
<circle cx="110.79" cy="104.90" r="1.10"/>
<circle cx="113.13" cy="104.90" r="1.10"/>
<circle cx="115.47" cy="104.90" r="1.10"/>
<circle cx="117.81" cy="104.90" r="1.10"/>
<circle cx="120.15" cy="102.90" r="1.10"/>
<circle cx="122.50" cy="104.90" r="1.10"/>
<circle cx="124.84" cy="104.90" r="1.10"/>
<circle cx="127.18" cy="104.90" r="1.10"/>
<circle cx="129.52" cy="104.90" r="1.10"/>
<circle cx="131.86" cy="104.90" r="1.10"/>
<circle cx="134.20" cy="104.90" r="1.10"/>
<circle cx="136.54" cy="104.90" r="1.10"/>
<circle cx="138.88" cy="104.90" r="1.10"/>
<circle cx="141.22" cy="104.90" r="1.10"/>
<circle cx="143.56" cy="103.40" r="1.10"/>
<circle cx="145.90" cy="104.40" r="1.10"/>
<circle cx="148.24" cy="104.40" r="1.10"/>
<circle cx="150.58" cy="104.90" r="1.10"/>
<circle cx="152.92" cy="104.90" r="1.10"/>
<circle cx="155.26" cy="104.90" r="1.10"/>
<circle cx="157.61" cy="104.90" r="1.10"/>
<circle cx="159.95" cy="104.90" r="1.10"/>
<circle cx="162.29" cy="104.90" r="1.10"/>
<circle cx="164.63" cy="104.90" r="1.10"/>
<circle cx="166.97" cy="104.90" r="1.10"/>
<circle cx="169.31" cy="104.90" r="1.10"/>
<circle cx="171.65" cy="104.90" r="1.10"/>
<circle cx="173.99" cy="104.90" r="1.10"/>
<circle cx="176.33" cy="104.90" r="1.10"/>
<circle cx="178.67" cy="104.90" r="1.10"/>
<circle cx="181.01" cy="104.90" r="1.10"/>
<circle cx="183.35" cy="104.90" r="1.10"/>
<circle cx="185.69" cy="104.90" r="1.10"/>
<circle cx="188.03" cy="104.90" r="1.10"/>
<circle cx="190.38" cy="104.90" r="1.10"/>
<circle cx="192.72" cy="104.90" r="1.10"/>
<circle cx="195.06" cy="104.90" r="1.10"/>
<circle cx="197.40" cy="104.90" r="1.10"/>
<circle cx="199.74" cy="104.90" r="1.10"/>
<circle cx="202.08" cy="104.90" r="1.10"/>
<circle cx="220.80" cy="104.90" r="1.10"/>
<circle cx="40.57" cy="121.20" r="1.10"/>
<circle cx="42.91" cy="121.20" r="1.10"/>
<circle cx="45.25" cy="119.50" r="1.10"/>
<circle cx="63.98" cy="121.20" r="1.10"/>
<circle cx="66.32" cy="118.20" r="1.10"/>
<circle cx="68.66" cy="114.90" r="1.10"/>
<circle cx="71.00" cy="113.20" r="1.10"/>
<circle cx="73.34" cy="121.20" r="1.10"/>
<circle cx="75.68" cy="121.20" r="1.10"/>
<circle cx="78.02" cy="111.70" r="1.10"/>
<circle cx="80.36" cy="114.50" r="1.10"/>
<circle cx="82.70" cy="121.20" r="1.10"/>
<circle cx="85.04" cy="121.20" r="1.10"/>
<circle cx="87.38" cy="121.20" r="1.10"/>
<circle cx="89.73" cy="121.20" r="1.10"/>
<circle cx="92.07" cy="121.20" r="1.10"/>
<circle cx="94.41" cy="121.20" r="1.10"/>
<circle cx="96.75" cy="115.90" r="1.10"/>
<circle cx="99.09" cy="121.20" r="1.10"/>
<circle cx="101.43" cy="121.20" r="1.10"/>
<circle cx="103.77" cy="121.20" r="1.10"/>
<circle cx="106.11" cy="121.20" r="1.10"/>
<circle cx="108.45" cy="118.20" r="1.10"/>
<circle cx="110.79" cy="121.20" r="1.10"/>
<circle cx="113.13" cy="121.20" r="1.10"/>
<circle cx="115.47" cy="117.20" r="1.10"/>
<circle cx="117.81" cy="121.20" r="1.10"/>
<circle cx="120.15" cy="121.20" r="1.10"/>
<circle cx="122.50" cy="121.20" r="1.10"/>
<circle cx="124.84" cy="121.20" r="1.10"/>
<circle cx="127.18" cy="121.20" r="1.10"/>
<circle cx="129.52" cy="118.20" r="1.10"/>
<circle cx="131.86" cy="121.20" r="1.10"/>
<circle cx="134.20" cy="121.20" r="1.10"/>
<circle cx="136.54" cy="117.80" r="1.10"/>
<circle cx="138.88" cy="121.20" r="1.10"/>
<circle cx="141.22" cy="117.80" r="1.10"/>
<circle cx="143.56" cy="121.20" r="1.10"/>
<circle cx="145.90" cy="117.80" r="1.10"/>
<circle cx="148.24" cy="121.20" r="1.10"/>
<circle cx="150.58" cy="121.20" r="1.10"/>
<circle cx="152.92" cy="121.20" r="1.10"/>
<circle cx="155.26" cy="121.20" r="1.10"/>
<circle cx="157.61" cy="121.20" r="1.10"/>
<circle cx="159.95" cy="121.20" r="1.10"/>
<circle cx="162.29" cy="121.20" r="1.10"/>
<circle cx="164.63" cy="121.20" r="1.10"/>
<circle cx="166.97" cy="121.20" r="1.10"/>
<circle cx="169.31" cy="121.20" r="1.10"/>
<circle cx="188.03" cy="121.20" r="1.10"/>
<circle cx="190.38" cy="118.40" r="1.10"/>
<circle cx="192.72" cy="119.20" r="1.10"/>
<circle cx="195.06" cy="120.70" r="1.10"/>
<circle cx="197.40" cy="119.00" r="1.10"/>
<circle cx="199.74" cy="121.20" r="1.10"/>
<circle cx="202.08" cy="121.20" r="1.10"/>
<circle cx="204.42" cy="121.20" r="1.10"/>
<circle cx="206.76" cy="121.20" r="1.10"/>
<circle cx="209.10" cy="121.20" r="1.10"/>
<circle cx="211.44" cy="121.20" r="1.10"/>
<circle cx="213.78" cy="121.20" r="1.10"/>
<circle cx="216.12" cy="121.20" r="1.10"/>
<circle cx="218.46" cy="121.20" r="1.10"/>
<circle cx="220.80" cy="121.20" r="1.10"/>
<circle cx="223.15" cy="121.20" r="1.10"/>
<circle cx="225.49" cy="121.20" r="1.10"/>
<circle cx="227.83" cy="119.20" r="1.10"/>
<circle cx="230.17" cy="121.20" r="1.10"/>
<circle cx="232.51" cy="117.80" r="1.10"/>
<circle cx="234.85" cy="121.20" r="1.10"/>
<circle cx="237.19" cy="121.20" r="1.10"/>
<circle cx="239.53" cy="121.20" r="1.10"/>
<circle cx="241.87" cy="121.20" r="1.10"/>
<circle cx="40.57" cy="139.10" r="1.10"/>
<circle cx="42.91" cy="140.30" r="1.10"/>
<circle cx="45.25" cy="140.80" r="1.10"/>
<circle cx="47.59" cy="140.80" r="1.10"/>
<circle cx="66.32" cy="140.80" r="1.10"/>
<circle cx="68.66" cy="140.80" r="1.10"/>
<circle cx="71.00" cy="140.80" r="1.10"/>
<circle cx="73.34" cy="140.80" r="1.10"/>
<circle cx="75.68" cy="140.80" r="1.10"/>
<circle cx="78.02" cy="140.80" r="1.10"/>
<circle cx="80.36" cy="140.80" r="1.10"/>
<circle cx="82.70" cy="140.80" r="1.10"/>
<circle cx="85.04" cy="140.80" r="1.10"/>
<circle cx="87.38" cy="140.80" r="1.10"/>
<circle cx="89.73" cy="140.80" r="1.10"/>
<circle cx="92.07" cy="140.80" r="1.10"/>
<circle cx="94.41" cy="140.80" r="1.10"/>
<circle cx="96.75" cy="140.80" r="1.10"/>
<circle cx="99.09" cy="140.80" r="1.10"/>
<circle cx="101.43" cy="140.80" r="1.10"/>
<circle cx="103.77" cy="140.80" r="1.10"/>
<circle cx="106.11" cy="140.80" r="1.10"/>
<circle cx="108.45" cy="140.80" r="1.10"/>
<circle cx="110.79" cy="140.80" r="1.10"/>
<circle cx="113.13" cy="140.80" r="1.10"/>
<circle cx="115.47" cy="140.80" r="1.10"/>
<circle cx="117.81" cy="140.80" r="1.10"/>
<circle cx="120.15" cy="140.80" r="1.10"/>
<circle cx="122.50" cy="140.80" r="1.10"/>
<circle cx="124.84" cy="126.80" r="1.10"/>
<circle cx="127.18" cy="138.80" r="1.10"/>
<circle cx="129.52" cy="127.10" r="1.10"/>
<circle cx="131.86" cy="140.20" r="1.10"/>
<circle cx="134.20" cy="139.80" r="1.10"/>
<circle cx="136.54" cy="132.80" r="1.10"/>
<circle cx="138.88" cy="140.80" r="1.10"/>
<circle cx="141.22" cy="131.80" r="1.10"/>
<circle cx="143.56" cy="140.80" r="1.10"/>
<circle cx="145.90" cy="140.80" r="1.10"/>
<circle cx="148.24" cy="140.80" r="1.10"/>
<circle cx="150.58" cy="140.80" r="1.10"/>
<circle cx="152.92" cy="140.80" r="1.10"/>
<circle cx="155.26" cy="140.80" r="1.10"/>
<circle cx="157.61" cy="140.80" r="1.10"/>
<circle cx="159.95" cy="140.80" r="1.10"/>
<circle cx="162.29" cy="137.20" r="1.10"/>
<circle cx="164.63" cy="140.20" r="1.10"/>
<circle cx="166.97" cy="139.80" r="1.10"/>
<circle cx="185.69" cy="138.30" r="1.10"/>
<circle cx="188.03" cy="140.80" r="1.10"/>
<circle cx="190.38" cy="140.80" r="1.10"/>
<circle cx="40.57" cy="155.70" r="1.10"/>
<circle cx="42.91" cy="155.70" r="1.10"/>
<circle cx="45.25" cy="155.70" r="1.10"/>
<circle cx="63.98" cy="155.70" r="1.10"/>
<circle cx="66.32" cy="155.20" r="1.10"/>
<circle cx="68.66" cy="155.70" r="1.10"/>
<circle cx="71.00" cy="155.70" r="1.10"/>
<circle cx="73.34" cy="155.70" r="1.10"/>
<circle cx="75.68" cy="155.20" r="1.10"/>
<circle cx="78.02" cy="155.70" r="1.10"/>
<circle cx="80.36" cy="155.70" r="1.10"/>
<circle cx="82.70" cy="155.70" r="1.10"/>
<circle cx="85.04" cy="155.70" r="1.10"/>
<circle cx="87.38" cy="155.70" r="1.10"/>
<circle cx="89.73" cy="155.70" r="1.10"/>
<circle cx="92.07" cy="155.70" r="1.10"/>
<circle cx="94.41" cy="153.50" r="1.10"/>
<circle cx="96.75" cy="155.20" r="1.10"/>
<circle cx="99.09" cy="155.70" r="1.10"/>
<circle cx="101.43" cy="155.70" r="1.10"/>
<circle cx="103.77" cy="155.70" r="1.10"/>
<circle cx="106.11" cy="155.70" r="1.10"/>
<circle cx="108.45" cy="155.70" r="1.10"/>
<circle cx="110.79" cy="155.70" r="1.10"/>
<circle cx="113.13" cy="155.70" r="1.10"/>
<circle cx="115.47" cy="155.20" r="1.10"/>
<circle cx="117.81" cy="155.70" r="1.10"/>
<circle cx="120.15" cy="155.70" r="1.10"/>
<circle cx="122.50" cy="155.70" r="1.10"/>
<circle cx="124.84" cy="155.70" r="1.10"/>
<circle cx="127.18" cy="155.70" r="1.10"/>
<circle cx="129.52" cy="155.70" r="1.10"/>
<circle cx="131.86" cy="152.80" r="1.10"/>
<circle cx="134.20" cy="155.20" r="1.10"/>
<circle cx="136.54" cy="155.70" r="1.10"/>
<circle cx="138.88" cy="155.70" r="1.10"/>
<circle cx="141.22" cy="155.70" r="1.10"/>
<circle cx="143.56" cy="155.70" r="1.10"/>
<circle cx="145.90" cy="155.70" r="1.10"/>
<circle cx="148.24" cy="155.70" r="1.10"/>
<circle cx="150.58" cy="155.70" r="1.10"/>
<circle cx="152.92" cy="155.70" r="1.10"/>
<circle cx="155.26" cy="155.70" r="1.10"/>
<circle cx="157.61" cy="155.70" r="1.10"/>
<circle cx="159.95" cy="155.70" r="1.10"/>
<circle cx="162.29" cy="155.70" r="1.10"/>
<circle cx="164.63" cy="155.70" r="1.10"/>
<circle cx="166.97" cy="155.70" r="1.10"/>
<circle cx="169.31" cy="154.90" r="1.10"/>
<circle cx="171.65" cy="155.70" r="1.10"/>
<circle cx="173.99" cy="155.70" r="1.10"/>
<circle cx="176.33" cy="155.70" r="1.10"/>
<circle cx="178.67" cy="155.70" r="1.10"/>
<circle cx="181.01" cy="155.70" r="1.10"/>
<circle cx="183.35" cy="155.70" r="1.10"/>
<circle cx="185.69" cy="155.70" r="1.10"/>
<circle cx="188.03" cy="155.70" r="1.10"/>
<circle cx="190.38" cy="155.70" r="1.10"/>
<circle cx="192.72" cy="155.70" r="1.10"/>
<circle cx="195.06" cy="155.70" r="1.10"/>
<circle cx="197.40" cy="155.70" r="1.10"/>
<circle cx="199.74" cy="155.70" r="1.10"/>
<circle cx="202.08" cy="155.70" r="1.10"/>
<circle cx="204.42" cy="155.70" r="1.10"/>
<circle cx="206.76" cy="155.70" r="1.10"/>
<circle cx="209.10" cy="155.70" r="1.10"/>
<circle cx="211.44" cy="155.70" r="1.10"/>
<circle cx="213.78" cy="155.70" r="1.10"/>
<circle cx="216.12" cy="155.70" r="1.10"/>
<circle cx="218.46" cy="155.70" r="1.10"/>
<circle cx="220.80" cy="155.70" r="1.10"/>
<circle cx="223.15" cy="155.70" r="1.10"/>
<circle cx="225.49" cy="155.70" r="1.10"/>
<circle cx="227.83" cy="155.70" r="1.10"/>
<circle cx="230.17" cy="155.70" r="1.10"/>
<circle cx="232.51" cy="155.70" r="1.10"/>
<circle cx="234.85" cy="155.70" r="1.10"/>
<circle cx="237.19" cy="155.70" r="1.10"/>
<circle cx="239.53" cy="155.70" r="1.10"/>
<circle cx="241.87" cy="155.70" r="1.10"/>
<circle cx="244.21" cy="155.70" r="1.10"/>
<circle cx="246.55" cy="155.70" r="1.10"/>
<circle cx="248.89" cy="155.70" r="1.10"/>
<circle cx="267.62" cy="155.70" r="1.10"/>
<circle cx="40.57" cy="167.50" r="1.10"/>
<circle cx="42.91" cy="170.90" r="1.10"/>
<circle cx="45.25" cy="170.90" r="1.10"/>
<circle cx="63.98" cy="170.90" r="1.10"/>
<circle cx="66.32" cy="170.90" r="1.10"/>
<circle cx="68.66" cy="170.90" r="1.10"/>
<circle cx="71.00" cy="170.90" r="1.10"/>
<circle cx="73.34" cy="170.90" r="1.10"/>
<circle cx="75.68" cy="170.90" r="1.10"/>
<circle cx="78.02" cy="170.90" r="1.10"/>
<circle cx="80.36" cy="170.10" r="1.10"/>
<circle cx="82.70" cy="170.90" r="1.10"/>
<circle cx="85.04" cy="170.90" r="1.10"/>
<circle cx="87.38" cy="170.90" r="1.10"/>
<circle cx="89.73" cy="170.90" r="1.10"/>
<circle cx="92.07" cy="170.10" r="1.10"/>
<circle cx="94.41" cy="170.90" r="1.10"/>
<circle cx="96.75" cy="170.90" r="1.10"/>
<circle cx="99.09" cy="170.90" r="1.10"/>
<circle cx="101.43" cy="170.90" r="1.10"/>
<circle cx="103.77" cy="165.50" r="1.10"/>
<circle cx="106.11" cy="170.90" r="1.10"/>
<circle cx="108.45" cy="170.90" r="1.10"/>
<circle cx="110.79" cy="170.10" r="1.10"/>
<circle cx="113.13" cy="170.90" r="1.10"/>
<circle cx="115.47" cy="170.90" r="1.10"/>
<circle cx="117.81" cy="170.90" r="1.10"/>
<circle cx="120.15" cy="170.90" r="1.10"/>
<circle cx="122.50" cy="170.10" r="1.10"/>
<circle cx="124.84" cy="170.90" r="1.10"/>
<circle cx="127.18" cy="170.90" r="1.10"/>
<circle cx="129.52" cy="170.90" r="1.10"/>
<circle cx="131.86" cy="170.10" r="1.10"/>
<circle cx="134.20" cy="170.90" r="1.10"/>
<circle cx="136.54" cy="170.10" r="1.10"/>
<circle cx="138.88" cy="170.90" r="1.10"/>
<circle cx="141.22" cy="170.90" r="1.10"/>
<circle cx="143.56" cy="170.10" r="1.10"/>
<circle cx="145.90" cy="170.90" r="1.10"/>
<circle cx="148.24" cy="170.10" r="1.10"/>
<circle cx="150.58" cy="170.90" r="1.10"/>
<circle cx="152.92" cy="170.90" r="1.10"/>
<circle cx="155.26" cy="170.10" r="1.10"/>
<circle cx="157.61" cy="170.90" r="1.10"/>
<circle cx="159.95" cy="170.10" r="1.10"/>
<circle cx="162.29" cy="170.90" r="1.10"/>
<circle cx="164.63" cy="170.90" r="1.10"/>
<circle cx="166.97" cy="170.90" r="1.10"/>
<circle cx="169.31" cy="170.90" r="1.10"/>
<circle cx="171.65" cy="170.10" r="1.10"/>
<circle cx="173.99" cy="170.90" r="1.10"/>
<circle cx="176.33" cy="170.90" r="1.10"/>
<circle cx="195.06" cy="170.90" r="1.10"/>
<circle cx="197.40" cy="170.90" r="1.10"/>
<circle cx="199.74" cy="170.90" r="1.10"/>
<circle cx="202.08" cy="170.90" r="1.10"/>
<circle cx="204.42" cy="170.90" r="1.10"/>
<circle cx="206.76" cy="170.90" r="1.10"/>
<circle cx="209.10" cy="170.90" r="1.10"/>
<circle cx="211.44" cy="170.90" r="1.10"/>
<circle cx="213.78" cy="170.90" r="1.10"/>
<circle cx="216.12" cy="170.90" r="1.10"/>
<circle cx="218.46" cy="170.90" r="1.10"/>
<circle cx="220.80" cy="170.90" r="1.10"/>
<circle cx="223.15" cy="170.90" r="1.10"/>
<circle cx="225.49" cy="169.90" r="1.10"/>
<circle cx="227.83" cy="170.90" r="1.10"/>
<circle cx="40.57" cy="186.20" r="1.10"/>
<circle cx="59.30" cy="185.70" r="1.10"/>
<circle cx="61.64" cy="186.20" r="1.10"/>
<circle cx="63.98" cy="186.20" r="1.10"/>
<circle cx="66.32" cy="186.20" r="1.10"/>
<circle cx="68.66" cy="186.20" r="1.10"/>
<circle cx="71.00" cy="185.20" r="1.10"/>
<circle cx="73.34" cy="185.20" r="1.10"/>
<circle cx="75.68" cy="185.20" r="1.10"/>
<circle cx="78.02" cy="186.20" r="1.10"/>
<circle cx="80.36" cy="186.20" r="1.10"/>
<circle cx="82.70" cy="186.20" r="1.10"/>
<circle cx="85.04" cy="186.20" r="1.10"/>
<circle cx="87.38" cy="186.20" r="1.10"/>
<circle cx="89.73" cy="186.20" r="1.10"/>
<circle cx="92.07" cy="182.20" r="1.10"/>
<circle cx="94.41" cy="186.20" r="1.10"/>
<circle cx="96.75" cy="186.20" r="1.10"/>
<circle cx="99.09" cy="186.20" r="1.10"/>
<circle cx="101.43" cy="184.70" r="1.10"/>
<circle cx="103.77" cy="186.20" r="1.10"/>
<circle cx="106.11" cy="186.20" r="1.10"/>
<circle cx="108.45" cy="186.20" r="1.10"/>
<circle cx="110.79" cy="186.20" r="1.10"/>
<circle cx="113.13" cy="186.20" r="1.10"/>
<circle cx="115.47" cy="186.20" r="1.10"/>
<circle cx="117.81" cy="184.70" r="1.10"/>
<circle cx="120.15" cy="186.20" r="1.10"/>
<circle cx="122.50" cy="186.20" r="1.10"/>
<circle cx="124.84" cy="186.20" r="1.10"/>
<circle cx="127.18" cy="186.20" r="1.10"/>
<circle cx="129.52" cy="186.20" r="1.10"/>
<circle cx="131.86" cy="185.40" r="1.10"/>
<circle cx="134.20" cy="185.40" r="1.10"/>
<circle cx="136.54" cy="186.20" r="1.10"/>
<circle cx="138.88" cy="186.20" r="1.10"/>
<circle cx="141.22" cy="186.20" r="1.10"/>
<circle cx="143.56" cy="186.20" r="1.10"/>
<circle cx="145.90" cy="186.20" r="1.10"/>
<circle cx="148.24" cy="186.20" r="1.10"/>
<circle cx="150.58" cy="186.20" r="1.10"/>
<circle cx="152.92" cy="186.20" r="1.10"/>
<circle cx="155.26" cy="186.20" r="1.10"/>
<circle cx="157.61" cy="186.20" r="1.10"/>
<circle cx="159.95" cy="185.20" r="1.10"/>
<circle cx="162.29" cy="186.20" r="1.10"/>
<circle cx="164.63" cy="186.20" r="1.10"/>
<circle cx="166.97" cy="186.20" r="1.10"/>
<circle cx="169.31" cy="186.20" r="1.10"/>
<circle cx="171.65" cy="185.40" r="1.10"/>
<circle cx="173.99" cy="186.20" r="1.10"/>
<circle cx="176.33" cy="186.20" r="1.10"/>
<circle cx="178.67" cy="186.20" r="1.10"/>
<circle cx="181.01" cy="186.20" r="1.10"/>
<circle cx="183.35" cy="186.20" r="1.10"/>
<circle cx="185.69" cy="186.20" r="1.10"/>
<circle cx="188.03" cy="186.20" r="1.10"/>
<circle cx="190.38" cy="186.20" r="1.10"/>
<circle cx="192.72" cy="186.20" r="1.10"/>
<circle cx="195.06" cy="186.20" r="1.10"/>
<circle cx="197.40" cy="186.20" r="1.10"/>
<circle cx="199.74" cy="186.20" r="1.10"/>
<circle cx="40.57" cy="209.60" r="1.10"/>
<circle cx="42.91" cy="202.60" r="1.10"/>
<circle cx="45.25" cy="209.60" r="1.10"/>
<circle cx="47.59" cy="209.60" r="1.10"/>
<circle cx="49.93" cy="209.60" r="1.10"/>
<circle cx="52.27" cy="209.60" r="1.10"/>
<circle cx="54.61" cy="209.60" r="1.10"/>
<circle cx="73.34" cy="209.10" r="1.10"/>
<circle cx="75.68" cy="208.10" r="1.10"/>
<circle cx="78.02" cy="209.60" r="1.10"/>
<circle cx="80.36" cy="209.60" r="1.10"/>
<circle cx="82.70" cy="209.60" r="1.10"/>
<circle cx="85.04" cy="209.60" r="1.10"/>
<circle cx="87.38" cy="209.60" r="1.10"/>
<circle cx="89.73" cy="209.60" r="1.10"/>
<circle cx="92.07" cy="209.60" r="1.10"/>
<circle cx="94.41" cy="209.60" r="1.10"/>
<circle cx="96.75" cy="209.60" r="1.10"/>
<circle cx="99.09" cy="209.60" r="1.10"/>
<circle cx="101.43" cy="209.60" r="1.10"/>
<circle cx="103.77" cy="209.60" r="1.10"/>
<circle cx="106.11" cy="209.60" r="1.10"/>
<circle cx="108.45" cy="209.60" r="1.10"/>
<circle cx="110.79" cy="209.10" r="1.10"/>
<circle cx="113.13" cy="209.60" r="1.10"/>
<circle cx="115.47" cy="203.00" r="1.10"/>
<circle cx="117.81" cy="209.60" r="1.10"/>
<circle cx="120.15" cy="203.00" r="1.10"/>
<circle cx="122.50" cy="209.60" r="1.10"/>
<circle cx="124.84" cy="209.60" r="1.10"/>
<circle cx="127.18" cy="209.60" r="1.10"/>
<circle cx="129.52" cy="209.60" r="1.10"/>
<circle cx="131.86" cy="209.60" r="1.10"/>
<circle cx="134.20" cy="209.60" r="1.10"/>
<circle cx="136.54" cy="209.60" r="1.10"/>
<circle cx="138.88" cy="191.80" r="1.10"/>
<circle cx="141.22" cy="205.60" r="1.10"/>
<circle cx="143.56" cy="209.60" r="1.10"/>
<circle cx="145.90" cy="208.90" r="1.10"/>
<circle cx="148.24" cy="208.90" r="1.10"/>
<circle cx="150.58" cy="209.60" r="1.10"/>
<circle cx="152.92" cy="209.60" r="1.10"/>
<circle cx="155.26" cy="209.60" r="1.10"/>
<circle cx="157.61" cy="209.60" r="1.10"/>
<circle cx="159.95" cy="209.60" r="1.10"/>
<circle cx="162.29" cy="209.60" r="1.10"/>
<circle cx="164.63" cy="209.60" r="1.10"/>
<circle cx="166.97" cy="209.60" r="1.10"/>
<circle cx="169.31" cy="209.60" r="1.10"/>
<circle cx="171.65" cy="209.60" r="1.10"/>
<circle cx="173.99" cy="209.60" r="1.10"/>
<circle cx="176.33" cy="209.60" r="1.10"/>
<circle cx="178.67" cy="209.60" r="1.10"/>
<circle cx="181.01" cy="209.60" r="1.10"/>
<circle cx="183.35" cy="209.60" r="1.10"/>
<circle cx="185.69" cy="209.60" r="1.10"/>
<circle cx="188.03" cy="209.60" r="1.10"/>
<circle cx="190.38" cy="209.60" r="1.10"/>
<circle cx="192.72" cy="209.60" r="1.10"/>
<circle cx="195.06" cy="209.60" r="1.10"/>
<circle cx="197.40" cy="209.60" r="1.10"/>
<circle cx="199.74" cy="209.60" r="1.10"/>
<circle cx="202.08" cy="209.60" r="1.10"/>
<circle cx="204.42" cy="209.60" r="1.10"/>
<circle cx="206.76" cy="209.60" r="1.10"/>
<circle cx="209.10" cy="209.60" r="1.10"/>
<circle cx="211.44" cy="209.60" r="1.10"/>
<circle cx="213.78" cy="209.60" r="1.10"/>
<circle cx="216.12" cy="209.60" r="1.10"/>
<circle cx="218.46" cy="209.60" r="1.10"/>
<circle cx="220.80" cy="209.60" r="1.10"/>
<circle cx="223.15" cy="206.40" r="1.10"/>
<circle cx="225.49" cy="204.50" r="1.10"/>
<circle cx="227.83" cy="205.20" r="1.10"/>
<circle cx="230.17" cy="209.60" r="1.10"/>
<circle cx="232.51" cy="209.60" r="1.10"/>
<circle cx="251.23" cy="209.60" r="1.10"/>
<circle cx="253.57" cy="209.60" r="1.10"/>
<circle cx="255.92" cy="199.60" r="1.10"/>
<circle cx="258.26" cy="188.20" r="1.10"/>
<circle cx="260.60" cy="209.60" r="1.10"/>
<circle cx="262.94" cy="209.60" r="1.10"/>
<circle cx="265.28" cy="209.60" r="1.10"/>
<circle cx="267.62" cy="209.60" r="1.10"/>
<circle cx="269.96" cy="178.40" r="1.10"/>
<circle cx="272.30" cy="198.40" r="1.10"/>
<circle cx="274.64" cy="193.00" r="1.10"/>
<circle cx="276.98" cy="193.30" r="1.10"/>
<circle cx="279.32" cy="209.60" r="1.10"/>
<circle cx="281.66" cy="209.60" r="1.10"/>
<circle cx="284.00" cy="190.10" r="1.10"/>
<circle cx="286.34" cy="209.60" r="1.10"/>
<circle cx="288.68" cy="209.60" r="1.10"/>
<circle cx="291.03" cy="209.60" r="1.10"/>
<circle cx="293.37" cy="209.60" r="1.10"/>
<circle cx="40.57" cy="233.60" r="1.10"/>
<circle cx="42.91" cy="235.80" r="1.10"/>
<circle cx="45.25" cy="235.80" r="1.10"/>
<circle cx="47.59" cy="235.80" r="1.10"/>
<circle cx="66.32" cy="235.80" r="1.10"/>
<circle cx="68.66" cy="235.80" r="1.10"/>
<circle cx="71.00" cy="235.80" r="1.10"/>
<circle cx="73.34" cy="235.80" r="1.10"/>
<circle cx="75.68" cy="230.30" r="1.10"/>
<circle cx="78.02" cy="223.00" r="1.10"/>
<circle cx="80.36" cy="235.80" r="1.10"/>
<circle cx="82.70" cy="234.30" r="1.10"/>
<circle cx="85.04" cy="235.80" r="1.10"/>
<circle cx="87.38" cy="235.80" r="1.10"/>
<circle cx="89.73" cy="235.80" r="1.10"/>
<circle cx="92.07" cy="235.80" r="1.10"/>
<circle cx="94.41" cy="235.80" r="1.10"/>
<circle cx="96.75" cy="227.80" r="1.10"/>
<circle cx="99.09" cy="235.80" r="1.10"/>
<circle cx="101.43" cy="235.80" r="1.10"/>
<circle cx="103.77" cy="235.80" r="1.10"/>
<circle cx="106.11" cy="235.80" r="1.10"/>
<circle cx="108.45" cy="235.80" r="1.10"/>
<circle cx="110.79" cy="235.80" r="1.10"/>
<circle cx="113.13" cy="235.80" r="1.10"/>
<circle cx="115.47" cy="227.80" r="1.10"/>
<circle cx="117.81" cy="235.80" r="1.10"/>
<circle cx="120.15" cy="235.80" r="1.10"/>
<circle cx="122.50" cy="235.80" r="1.10"/>
<circle cx="124.84" cy="233.60" r="1.10"/>
<circle cx="127.18" cy="235.80" r="1.10"/>
<circle cx="129.52" cy="235.80" r="1.10"/>
<circle cx="131.86" cy="235.80" r="1.10"/>
<circle cx="134.20" cy="235.80" r="1.10"/>
<circle cx="136.54" cy="235.80" r="1.10"/>
<circle cx="138.88" cy="235.80" r="1.10"/>
<circle cx="141.22" cy="235.80" r="1.10"/>
<circle cx="143.56" cy="235.80" r="1.10"/>
<circle cx="145.90" cy="235.80" r="1.10"/>
<circle cx="148.24" cy="235.80" r="1.10"/>
<circle cx="150.58" cy="235.80" r="1.10"/>
<circle cx="152.92" cy="235.80" r="1.10"/>
<circle cx="155.26" cy="235.80" r="1.10"/>
<circle cx="157.61" cy="235.80" r="1.10"/>
<circle cx="159.95" cy="234.10" r="1.10"/>
<circle cx="162.29" cy="235.80" r="1.10"/>
<circle cx="164.63" cy="235.80" r="1.10"/>
<circle cx="166.97" cy="233.30" r="1.10"/>
<circle cx="169.31" cy="225.80" r="1.10"/>
<circle cx="171.65" cy="235.80" r="1.10"/>
<circle cx="173.99" cy="227.20" r="1.10"/>
<circle cx="176.33" cy="235.80" r="1.10"/>
<circle cx="178.67" cy="235.80" r="1.10"/>
<circle cx="181.01" cy="235.80" r="1.10"/>
<circle cx="183.35" cy="235.80" r="1.10"/>
<circle cx="185.69" cy="235.80" r="1.10"/>
<circle cx="188.03" cy="235.80" r="1.10"/>
<circle cx="40.57" cy="252.40" r="1.10"/>
<circle cx="42.91" cy="252.40" r="1.10"/>
<circle cx="45.25" cy="252.40" r="1.10"/>
<circle cx="63.98" cy="252.40" r="1.10"/>
<circle cx="66.32" cy="252.40" r="1.10"/>
<circle cx="68.66" cy="252.40" r="1.10"/>
<circle cx="71.00" cy="252.40" r="1.10"/>
<circle cx="73.34" cy="252.40" r="1.10"/>
<circle cx="75.68" cy="252.40" r="1.10"/>
<circle cx="78.02" cy="252.40" r="1.10"/>
<circle cx="80.36" cy="252.40" r="1.10"/>
<circle cx="82.70" cy="250.60" r="1.10"/>
<circle cx="85.04" cy="252.40" r="1.10"/>
<circle cx="87.38" cy="252.40" r="1.10"/>
<circle cx="89.73" cy="243.40" r="1.10"/>
<circle cx="92.07" cy="252.40" r="1.10"/>
<circle cx="94.41" cy="252.40" r="1.10"/>
<circle cx="96.75" cy="252.40" r="1.10"/>
<circle cx="99.09" cy="252.40" r="1.10"/>
<circle cx="101.43" cy="252.40" r="1.10"/>
<circle cx="103.77" cy="252.40" r="1.10"/>
<circle cx="106.11" cy="252.40" r="1.10"/>
<circle cx="108.45" cy="252.40" r="1.10"/>
<circle cx="110.79" cy="252.40" r="1.10"/>
<circle cx="113.13" cy="252.40" r="1.10"/>
<circle cx="115.47" cy="252.40" r="1.10"/>
<circle cx="117.81" cy="252.40" r="1.10"/>
<circle cx="120.15" cy="252.40" r="1.10"/>
<circle cx="122.50" cy="252.40" r="1.10"/>
<circle cx="124.84" cy="252.40" r="1.10"/>
<circle cx="127.18" cy="251.90" r="1.10"/>
<circle cx="129.52" cy="252.40" r="1.10"/>
<circle cx="131.86" cy="252.40" r="1.10"/>
<circle cx="134.20" cy="252.40" r="1.10"/>
<circle cx="136.54" cy="252.40" r="1.10"/>
<circle cx="138.88" cy="252.40" r="1.10"/>
<circle cx="141.22" cy="252.40" r="1.10"/>
<circle cx="143.56" cy="252.40" r="1.10"/>
<circle cx="145.90" cy="252.40" r="1.10"/>
<circle cx="148.24" cy="252.40" r="1.10"/>
<circle cx="150.58" cy="252.40" r="1.10"/>
<circle cx="152.92" cy="252.40" r="1.10"/>
<circle cx="155.26" cy="252.40" r="1.10"/>
<circle cx="157.61" cy="252.40" r="1.10"/>
<circle cx="159.95" cy="252.40" r="1.10"/>
<circle cx="162.29" cy="252.40" r="1.10"/>
<circle cx="164.63" cy="252.40" r="1.10"/>
<circle cx="166.97" cy="252.40" r="1.10"/>
<circle cx="169.31" cy="252.40" r="1.10"/>
<circle cx="171.65" cy="252.40" r="1.10"/>
<circle cx="173.99" cy="252.40" r="1.10"/>
<circle cx="176.33" cy="252.40" r="1.10"/>
<circle cx="178.67" cy="252.40" r="1.10"/>
<circle cx="181.01" cy="252.40" r="1.10"/>
<circle cx="199.74" cy="252.40" r="1.10"/>
<circle cx="202.08" cy="252.40" r="1.10"/>
<circle cx="204.42" cy="252.40" r="1.10"/>
<circle cx="206.76" cy="252.40" r="1.10"/>
<circle cx="209.10" cy="247.00" r="1.10"/>
<circle cx="211.44" cy="252.40" r="1.10"/>
<circle cx="213.78" cy="252.40" r="1.10"/>
<circle cx="216.12" cy="252.40" r="1.10"/>
<circle cx="218.46" cy="252.40" r="1.10"/>
<circle cx="220.80" cy="252.40" r="1.10"/>
<circle cx="223.15" cy="252.40" r="1.10"/>
<circle cx="225.49" cy="252.40" r="1.10"/>
<circle cx="227.83" cy="252.40" r="1.10"/>
<circle cx="230.17" cy="252.40" r="1.10"/>
<circle cx="232.51" cy="252.40" r="1.10"/>
<circle cx="234.85" cy="252.40" r="1.10"/>
<circle cx="237.19" cy="251.90" r="1.10"/>
<circle cx="239.53" cy="252.40" r="1.10"/>
<circle cx="241.87" cy="252.40" r="1.10"/>
<circle cx="244.21" cy="252.40" r="1.10"/>
<circle cx="246.55" cy="250.60" r="1.10"/>
<circle cx="248.89" cy="245.10" r="1.10"/>
<circle cx="251.23" cy="248.90" r="1.10"/>
<circle cx="253.57" cy="252.40" r="1.10"/>
<circle cx="255.92" cy="252.40" r="1.10"/>
<circle cx="40.57" cy="267.20" r="1.10"/>
<circle cx="42.91" cy="267.20" r="1.10"/>
<circle cx="45.25" cy="267.20" r="1.10"/>
<circle cx="47.59" cy="267.20" r="1.10"/>
<circle cx="66.32" cy="267.20" r="1.10"/>
<circle cx="68.66" cy="267.20" r="1.10"/>
<circle cx="71.00" cy="267.20" r="1.10"/>
<circle cx="73.34" cy="267.20" r="1.10"/>
<circle cx="75.68" cy="267.20" r="1.10"/>
<circle cx="78.02" cy="267.20" r="1.10"/>
<circle cx="80.36" cy="267.20" r="1.10"/>
<circle cx="82.70" cy="266.20" r="1.10"/>
<circle cx="85.04" cy="266.20" r="1.10"/>
<circle cx="87.38" cy="267.20" r="1.10"/>
<circle cx="89.73" cy="267.20" r="1.10"/>
<circle cx="92.07" cy="267.20" r="1.10"/>
<circle cx="94.41" cy="267.20" r="1.10"/>
<circle cx="96.75" cy="267.20" r="1.10"/>
<circle cx="99.09" cy="267.20" r="1.10"/>
<circle cx="101.43" cy="267.20" r="1.10"/>
<circle cx="103.77" cy="267.20" r="1.10"/>
<circle cx="106.11" cy="267.20" r="1.10"/>
<circle cx="108.45" cy="267.20" r="1.10"/>
<circle cx="110.79" cy="267.20" r="1.10"/>
<circle cx="113.13" cy="267.20" r="1.10"/>
<circle cx="115.47" cy="267.20" r="1.10"/>
<circle cx="117.81" cy="267.20" r="1.10"/>
<circle cx="120.15" cy="267.20" r="1.10"/>
<circle cx="122.50" cy="267.20" r="1.10"/>
<circle cx="124.84" cy="267.20" r="1.10"/>
<circle cx="127.18" cy="267.20" r="1.10"/>
<circle cx="129.52" cy="267.20" r="1.10"/>
<circle cx="131.86" cy="267.20" r="1.10"/>
<circle cx="134.20" cy="267.20" r="1.10"/>
<circle cx="136.54" cy="267.20" r="1.10"/>
<circle cx="138.88" cy="267.20" r="1.10"/>
<circle cx="141.22" cy="267.20" r="1.10"/>
<circle cx="143.56" cy="267.20" r="1.10"/>
<circle cx="145.90" cy="267.20" r="1.10"/>
<circle cx="148.24" cy="267.20" r="1.10"/>
<circle cx="150.58" cy="267.20" r="1.10"/>
<circle cx="152.92" cy="267.20" r="1.10"/>
<circle cx="155.26" cy="267.20" r="1.10"/>
<circle cx="157.61" cy="264.20" r="1.10"/>
<circle cx="159.95" cy="267.20" r="1.10"/>
<circle cx="162.29" cy="267.20" r="1.10"/>
<circle cx="164.63" cy="267.20" r="1.10"/>
<circle cx="166.97" cy="267.20" r="1.10"/>
<circle cx="169.31" cy="267.20" r="1.10"/>
<circle cx="171.65" cy="267.20" r="1.10"/>
<circle cx="173.99" cy="267.20" r="1.10"/>
<circle cx="176.33" cy="267.20" r="1.10"/>
<circle cx="178.67" cy="267.20" r="1.10"/>
<circle cx="181.01" cy="267.20" r="1.10"/>
<circle cx="183.35" cy="267.20" r="1.10"/>
<circle cx="185.69" cy="266.20" r="1.10"/>
<circle cx="188.03" cy="266.20" r="1.10"/>
<circle cx="190.38" cy="267.20" r="1.10"/>
<circle cx="192.72" cy="267.20" r="1.10"/>
<circle cx="195.06" cy="267.20" r="1.10"/>
<circle cx="197.40" cy="267.20" r="1.10"/>
<circle cx="199.74" cy="267.20" r="1.10"/>
<circle cx="202.08" cy="267.20" r="1.10"/>
<circle cx="204.42" cy="267.20" r="1.10"/>
<circle cx="206.76" cy="267.20" r="1.10"/>
<circle cx="209.10" cy="267.20" r="1.10"/>
<circle cx="211.44" cy="267.20" r="1.10"/>
<circle cx="213.78" cy="267.20" r="1.10"/>
<circle cx="216.12" cy="267.20" r="1.10"/>
<circle cx="218.46" cy="267.20" r="1.10"/>
<circle cx="220.80" cy="267.20" r="1.10"/>
<circle cx="223.15" cy="267.20" r="1.10"/>
<circle cx="225.49" cy="267.20" r="1.10"/>
<circle cx="227.83" cy="267.20" r="1.10"/>
<circle cx="230.17" cy="267.20" r="1.10"/>
<circle cx="232.51" cy="267.20" r="1.10"/>
<circle cx="234.85" cy="267.20" r="1.10"/>
<circle cx="237.19" cy="267.20" r="1.10"/>
<circle cx="239.53" cy="267.20" r="1.10"/>
<circle cx="241.87" cy="267.20" r="1.10"/>
<circle cx="244.21" cy="267.20" r="1.10"/>
<circle cx="246.55" cy="267.20" r="1.10"/>
<circle cx="248.89" cy="267.20" r="1.10"/>
<circle cx="251.23" cy="267.20" r="1.10"/>
<circle cx="269.96" cy="267.20" r="1.10"/>
<circle cx="272.30" cy="267.20" r="1.10"/>
<circle cx="274.64" cy="267.20" r="1.10"/>
<circle cx="276.98" cy="266.60" r="1.10"/>
<circle cx="279.32" cy="267.20" r="1.10"/>
<circle cx="281.66" cy="267.20" r="1.10"/>
<circle cx="284.00" cy="267.20" r="1.10"/>
<circle cx="286.34" cy="267.20" r="1.10"/>
<circle cx="288.68" cy="267.20" r="1.10"/>
<circle cx="291.03" cy="267.20" r="1.10"/>
<circle cx="293.37" cy="267.20" r="1.10"/>
<circle cx="295.71" cy="263.70" r="1.10"/>
<circle cx="298.05" cy="266.40" r="1.10"/>
<circle cx="300.39" cy="267.20" r="1.10"/>
<circle cx="302.73" cy="267.20" r="1.10"/>
<circle cx="305.07" cy="267.20" r="1.10"/>
<circle cx="307.41" cy="267.20" r="1.10"/>
<circle cx="309.75" cy="267.20" r="1.10"/>
<circle cx="312.09" cy="267.20" r="1.10"/>
<circle cx="314.43" cy="267.20" r="1.10"/>
<circle cx="40.57" cy="281.70" r="1.10"/>
<circle cx="42.91" cy="281.70" r="1.10"/>
<circle cx="45.25" cy="281.70" r="1.10"/>
<circle cx="47.59" cy="281.20" r="1.10"/>
<circle cx="49.93" cy="280.50" r="1.10"/>
<circle cx="52.27" cy="280.00" r="1.10"/>
<circle cx="54.61" cy="281.00" r="1.10"/>
<circle cx="56.96" cy="281.70" r="1.10"/>
<circle cx="59.30" cy="280.50" r="1.10"/>
<circle cx="61.64" cy="280.50" r="1.10"/>
<circle cx="63.98" cy="280.20" r="1.10"/>
<circle cx="82.70" cy="281.70" r="1.10"/>
<circle cx="85.04" cy="281.70" r="1.10"/>
<circle cx="87.38" cy="281.70" r="1.10"/>
<circle cx="89.73" cy="281.70" r="1.10"/>
<circle cx="92.07" cy="281.70" r="1.10"/>
<circle cx="94.41" cy="281.70" r="1.10"/>
<circle cx="96.75" cy="281.70" r="1.10"/>
<circle cx="99.09" cy="281.70" r="1.10"/>
<circle cx="101.43" cy="281.70" r="1.10"/>
<circle cx="103.77" cy="281.70" r="1.10"/>
<circle cx="106.11" cy="281.70" r="1.10"/>
<circle cx="108.45" cy="281.70" r="1.10"/>
<circle cx="110.79" cy="281.70" r="1.10"/>
<circle cx="113.13" cy="281.70" r="1.10"/>
<circle cx="115.47" cy="281.70" r="1.10"/>
<circle cx="117.81" cy="281.70" r="1.10"/>
<circle cx="120.15" cy="281.70" r="1.10"/>
<circle cx="122.50" cy="281.70" r="1.10"/>
<circle cx="124.84" cy="281.70" r="1.10"/>
<circle cx="127.18" cy="278.80" r="1.10"/>
<circle cx="129.52" cy="280.20" r="1.10"/>
<circle cx="131.86" cy="281.70" r="1.10"/>
<circle cx="134.20" cy="281.70" r="1.10"/>
<circle cx="136.54" cy="281.70" r="1.10"/>
<circle cx="138.88" cy="281.70" r="1.10"/>
<circle cx="141.22" cy="281.70" r="1.10"/>
<circle cx="143.56" cy="281.70" r="1.10"/>
<circle cx="145.90" cy="281.70" r="1.10"/>
<circle cx="148.24" cy="281.70" r="1.10"/>
<circle cx="150.58" cy="281.70" r="1.10"/>
<circle cx="152.92" cy="281.70" r="1.10"/>
<circle cx="155.26" cy="281.70" r="1.10"/>
<circle cx="157.61" cy="281.70" r="1.10"/>
<circle cx="159.95" cy="281.70" r="1.10"/>
<circle cx="162.29" cy="281.70" r="1.10"/>
<circle cx="164.63" cy="280.90" r="1.10"/>
<circle cx="166.97" cy="281.70" r="1.10"/>
<circle cx="169.31" cy="281.70" r="1.10"/>
<circle cx="171.65" cy="281.70" r="1.10"/>
<circle cx="173.99" cy="281.70" r="1.10"/>
<circle cx="176.33" cy="281.70" r="1.10"/>
<circle cx="178.67" cy="281.70" r="1.10"/>
<circle cx="181.01" cy="281.70" r="1.10"/>
<circle cx="183.35" cy="281.70" r="1.10"/>
<circle cx="185.69" cy="281.70" r="1.10"/>
<circle cx="188.03" cy="281.70" r="1.10"/>
<circle cx="190.38" cy="281.70" r="1.10"/>
<circle cx="192.72" cy="281.70" r="1.10"/>
<circle cx="195.06" cy="281.70" r="1.10"/>
<circle cx="197.40" cy="281.70" r="1.10"/>
<circle cx="199.74" cy="281.70" r="1.10"/>
<circle cx="202.08" cy="281.70" r="1.10"/>
<circle cx="204.42" cy="281.70" r="1.10"/>
<circle cx="206.76" cy="281.70" r="1.10"/>
</g>
<g fill="#0d5efc">
<circle cx="47.59" cy="42.50" r="1.10"/>
<circle cx="49.93" cy="42.50" r="1.10"/>
<circle cx="52.27" cy="42.50" r="1.10"/>
<circle cx="54.61" cy="39.50" r="1.10"/>
<circle cx="56.96" cy="30.30" r="1.10"/>
<circle cx="59.30" cy="42.50" r="1.10"/>
<circle cx="61.64" cy="42.50" r="1.10"/>
<circle cx="56.96" cy="59.30" r="1.10"/>
<circle cx="59.30" cy="59.30" r="1.10"/>
<circle cx="61.64" cy="57.80" r="1.10"/>
<circle cx="63.98" cy="55.80" r="1.10"/>
<circle cx="66.32" cy="52.80" r="1.10"/>
<circle cx="68.66" cy="57.30" r="1.10"/>
<circle cx="71.00" cy="59.30" r="1.10"/>
<circle cx="45.25" cy="73.40" r="1.10"/>
<circle cx="47.59" cy="72.40" r="1.10"/>
<circle cx="49.93" cy="73.40" r="1.10"/>
<circle cx="52.27" cy="72.40" r="1.10"/>
<circle cx="54.61" cy="73.40" r="1.10"/>
<circle cx="56.96" cy="72.40" r="1.10"/>
<circle cx="59.30" cy="73.40" r="1.10"/>
<circle cx="45.25" cy="89.30" r="1.10"/>
<circle cx="47.59" cy="88.30" r="1.10"/>
<circle cx="49.93" cy="88.30" r="1.10"/>
<circle cx="52.27" cy="89.30" r="1.10"/>
<circle cx="54.61" cy="89.30" r="1.10"/>
<circle cx="56.96" cy="88.10" r="1.10"/>
<circle cx="59.30" cy="88.10" r="1.10"/>
<circle cx="56.96" cy="104.40" r="1.10"/>
<circle cx="59.30" cy="103.90" r="1.10"/>
<circle cx="61.64" cy="102.60" r="1.10"/>
<circle cx="63.98" cy="101.70" r="1.10"/>
<circle cx="66.32" cy="104.90" r="1.10"/>
<circle cx="68.66" cy="103.40" r="1.10"/>
<circle cx="71.00" cy="104.90" r="1.10"/>
<circle cx="47.59" cy="121.20" r="1.10"/>
<circle cx="49.93" cy="118.20" r="1.10"/>
<circle cx="52.27" cy="120.50" r="1.10"/>
<circle cx="54.61" cy="118.20" r="1.10"/>
<circle cx="56.96" cy="113.20" r="1.10"/>
<circle cx="59.30" cy="118.50" r="1.10"/>
<circle cx="61.64" cy="120.70" r="1.10"/>
<circle cx="49.93" cy="140.80" r="1.10"/>
<circle cx="52.27" cy="140.80" r="1.10"/>
<circle cx="54.61" cy="133.90" r="1.10"/>
<circle cx="56.96" cy="137.80" r="1.10"/>
<circle cx="59.30" cy="139.00" r="1.10"/>
<circle cx="61.64" cy="133.90" r="1.10"/>
<circle cx="63.98" cy="140.80" r="1.10"/>
<circle cx="47.59" cy="155.70" r="1.10"/>
<circle cx="49.93" cy="155.70" r="1.10"/>
<circle cx="52.27" cy="155.20" r="1.10"/>
<circle cx="54.61" cy="153.10" r="1.10"/>
<circle cx="56.96" cy="154.50" r="1.10"/>
<circle cx="59.30" cy="155.70" r="1.10"/>
<circle cx="61.64" cy="155.70" r="1.10"/>
<circle cx="47.59" cy="170.90" r="1.10"/>
<circle cx="49.93" cy="170.90" r="1.10"/>
<circle cx="52.27" cy="170.90" r="1.10"/>
<circle cx="54.61" cy="169.40" r="1.10"/>
<circle cx="56.96" cy="166.90" r="1.10"/>
<circle cx="59.30" cy="170.90" r="1.10"/>
<circle cx="61.64" cy="170.90" r="1.10"/>
<circle cx="42.91" cy="184.70" r="1.10"/>
<circle cx="45.25" cy="186.20" r="1.10"/>
<circle cx="47.59" cy="185.50" r="1.10"/>
<circle cx="49.93" cy="186.20" r="1.10"/>
<circle cx="52.27" cy="185.50" r="1.10"/>
<circle cx="54.61" cy="186.20" r="1.10"/>
<circle cx="56.96" cy="186.20" r="1.10"/>
<circle cx="56.96" cy="209.60" r="1.10"/>
<circle cx="59.30" cy="209.60" r="1.10"/>
<circle cx="61.64" cy="205.60" r="1.10"/>
<circle cx="63.98" cy="209.60" r="1.10"/>
<circle cx="66.32" cy="200.80" r="1.10"/>
<circle cx="68.66" cy="209.60" r="1.10"/>
<circle cx="71.00" cy="209.60" r="1.10"/>
<circle cx="49.93" cy="235.80" r="1.10"/>
<circle cx="52.27" cy="235.80" r="1.10"/>
<circle cx="54.61" cy="234.10" r="1.10"/>
<circle cx="56.96" cy="232.60" r="1.10"/>
<circle cx="59.30" cy="230.30" r="1.10"/>
<circle cx="61.64" cy="235.80" r="1.10"/>
<circle cx="63.98" cy="235.80" r="1.10"/>
<circle cx="47.59" cy="252.40" r="1.10"/>
<circle cx="49.93" cy="252.40" r="1.10"/>
<circle cx="52.27" cy="251.40" r="1.10"/>
<circle cx="54.61" cy="241.90" r="1.10"/>
<circle cx="56.96" cy="247.30" r="1.10"/>
<circle cx="59.30" cy="252.40" r="1.10"/>
<circle cx="61.64" cy="252.40" r="1.10"/>
<circle cx="49.93" cy="265.70" r="1.10"/>
<circle cx="52.27" cy="267.20" r="1.10"/>
<circle cx="54.61" cy="267.20" r="1.10"/>
<circle cx="56.96" cy="267.20" r="1.10"/>
<circle cx="59.30" cy="267.20" r="1.10"/>
<circle cx="61.64" cy="266.70" r="1.10"/>
<circle cx="63.98" cy="264.60" r="1.10"/>
<circle cx="66.32" cy="281.70" r="1.10"/>
<circle cx="68.66" cy="280.70" r="1.10"/>
<circle cx="71.00" cy="280.30" r="1.10"/>
<circle cx="73.34" cy="279.80" r="1.10"/>
<circle cx="75.68" cy="279.20" r="1.10"/>
<circle cx="78.02" cy="278.10" r="1.10"/>
<circle cx="80.36" cy="281.70" r="1.10"/>
</g>
<g fill="#c80000">
<circle cx="202.08" cy="42.50" r="1.10"/>
<circle cx="204.42" cy="42.50" r="1.10"/>
<circle cx="206.76" cy="42.50" r="1.10"/>
<circle cx="209.10" cy="37.80" r="1.10"/>
<circle cx="211.44" cy="37.00" r="1.10"/>
<circle cx="213.78" cy="42.50" r="1.10"/>
<circle cx="216.12" cy="42.50" r="1.10"/>
<circle cx="197.40" cy="59.30" r="1.10"/>
<circle cx="199.74" cy="59.30" r="1.10"/>
<circle cx="202.08" cy="59.30" r="1.10"/>
<circle cx="204.42" cy="48.00" r="1.10"/>
<circle cx="206.76" cy="48.00" r="1.10"/>
<circle cx="209.10" cy="59.30" r="1.10"/>
<circle cx="211.44" cy="59.30" r="1.10"/>
<circle cx="131.86" cy="70.60" r="1.10"/>
<circle cx="134.20" cy="73.40" r="1.10"/>
<circle cx="136.54" cy="73.40" r="1.10"/>
<circle cx="138.88" cy="73.40" r="1.10"/>
<circle cx="141.22" cy="73.40" r="1.10"/>
<circle cx="143.56" cy="72.40" r="1.10"/>
<circle cx="145.90" cy="72.60" r="1.10"/>
<circle cx="213.78" cy="89.30" r="1.10"/>
<circle cx="216.12" cy="89.30" r="1.10"/>
<circle cx="218.46" cy="89.30" r="1.10"/>
<circle cx="220.80" cy="84.20" r="1.10"/>
<circle cx="223.15" cy="88.50" r="1.10"/>
<circle cx="225.49" cy="89.30" r="1.10"/>
<circle cx="227.83" cy="89.30" r="1.10"/>
<circle cx="204.42" cy="104.90" r="1.10"/>
<circle cx="206.76" cy="104.90" r="1.10"/>
<circle cx="209.10" cy="104.90" r="1.10"/>
<circle cx="211.44" cy="100.50" r="1.10"/>
<circle cx="213.78" cy="97.30" r="1.10"/>
<circle cx="216.12" cy="104.90" r="1.10"/>
<circle cx="218.46" cy="104.90" r="1.10"/>
<circle cx="171.65" cy="112.70" r="1.10"/>
<circle cx="173.99" cy="117.80" r="1.10"/>
<circle cx="176.33" cy="120.80" r="1.10"/>
<circle cx="178.67" cy="121.20" r="1.10"/>
<circle cx="181.01" cy="121.20" r="1.10"/>
<circle cx="183.35" cy="121.20" r="1.10"/>
<circle cx="185.69" cy="119.70" r="1.10"/>
<circle cx="169.31" cy="140.80" r="1.10"/>
<circle cx="171.65" cy="128.40" r="1.10"/>
<circle cx="173.99" cy="127.80" r="1.10"/>
<circle cx="176.33" cy="133.80" r="1.10"/>
<circle cx="178.67" cy="140.20" r="1.10"/>
<circle cx="181.01" cy="139.10" r="1.10"/>
<circle cx="183.35" cy="137.60" r="1.10"/>
<circle cx="251.23" cy="151.70" r="1.10"/>
<circle cx="253.57" cy="153.70" r="1.10"/>
<circle cx="255.92" cy="155.70" r="1.10"/>
<circle cx="258.26" cy="155.70" r="1.10"/>
<circle cx="260.60" cy="155.70" r="1.10"/>
<circle cx="262.94" cy="155.70" r="1.10"/>
<circle cx="265.28" cy="154.70" r="1.10"/>
<circle cx="178.67" cy="170.10" r="1.10"/>
<circle cx="181.01" cy="170.90" r="1.10"/>
<circle cx="183.35" cy="170.90" r="1.10"/>
<circle cx="185.69" cy="170.90" r="1.10"/>
<circle cx="188.03" cy="170.90" r="1.10"/>
<circle cx="190.38" cy="170.90" r="1.10"/>
<circle cx="192.72" cy="169.40" r="1.10"/>
<circle cx="202.08" cy="186.20" r="1.10"/>
<circle cx="204.42" cy="186.20" r="1.10"/>
<circle cx="206.76" cy="185.20" r="1.10"/>
<circle cx="209.10" cy="184.20" r="1.10"/>
<circle cx="211.44" cy="183.00" r="1.10"/>
<circle cx="213.78" cy="183.70" r="1.10"/>
<circle cx="216.12" cy="183.20" r="1.10"/>
<circle cx="234.85" cy="209.60" r="1.10"/>
<circle cx="237.19" cy="204.70" r="1.10"/>
<circle cx="239.53" cy="198.70" r="1.10"/>
<circle cx="241.87" cy="206.70" r="1.10"/>
<circle cx="244.21" cy="203.50" r="1.10"/>
<circle cx="246.55" cy="204.20" r="1.10"/>
<circle cx="248.89" cy="209.60" r="1.10"/>
<circle cx="190.38" cy="235.80" r="1.10"/>
<circle cx="192.72" cy="231.10" r="1.10"/>
<circle cx="195.06" cy="235.80" r="1.10"/>
<circle cx="197.40" cy="235.20" r="1.10"/>
<circle cx="199.74" cy="215.30" r="1.10"/>
<circle cx="202.08" cy="220.50" r="1.10"/>
<circle cx="204.42" cy="220.50" r="1.10"/>
<circle cx="183.35" cy="252.40" r="1.10"/>
<circle cx="185.69" cy="252.40" r="1.10"/>
<circle cx="188.03" cy="252.40" r="1.10"/>
<circle cx="190.38" cy="248.90" r="1.10"/>
<circle cx="192.72" cy="247.00" r="1.10"/>
<circle cx="195.06" cy="252.40" r="1.10"/>
<circle cx="197.40" cy="252.40" r="1.10"/>
<circle cx="253.57" cy="267.20" r="1.10"/>
<circle cx="255.92" cy="267.20" r="1.10"/>
<circle cx="258.26" cy="267.20" r="1.10"/>
<circle cx="260.60" cy="263.20" r="1.10"/>
<circle cx="262.94" cy="266.20" r="1.10"/>
<circle cx="265.28" cy="267.20" r="1.10"/>
<circle cx="267.62" cy="267.20" r="1.10"/>
<circle cx="209.10" cy="281.70" r="1.10"/>
<circle cx="211.44" cy="281.70" r="1.10"/>
<circle cx="213.78" cy="281.70" r="1.10"/>
<circle cx="216.12" cy="280.70" r="1.10"/>
<circle cx="218.46" cy="280.20" r="1.10"/>
<circle cx="220.80" cy="280.70" r="1.10"/>
<circle cx="223.15" cy="281.70" r="1.10"/>
</g>
<text x="33.2" y="44.2" text-anchor="end" class="lb">B6</text>
<text x="33.2" y="60.9" text-anchor="end" class="lb">C3</text>
<text x="33.2" y="74.8" text-anchor="end" class="lb">C13</text>
<text x="33.2" y="91.2" text-anchor="end" class="lb">C16</text>
<text x="33.2" y="106.7" text-anchor="end" class="lb">D17</text>
<text x="33.2" y="123.1" text-anchor="end" class="lb">E2</text>
<text x="33.2" y="142.3" text-anchor="end" class="lb">E5</text>
<text x="33.2" y="157.5" text-anchor="end" class="lbs">I4</text>
<text x="33.2" y="172.3" text-anchor="end" class="lbs">I7</text>
<text x="33.2" y="187.6" text-anchor="end" class="lbs">I8</text>
<text x="33.2" y="211.0" text-anchor="end" class="lb">R2</text>
<text x="33.2" y="237.2" text-anchor="end" class="lb">R3</text>
<text x="33.2" y="253.5" text-anchor="end" class="lb">R5</text>
<text x="33.2" y="268.6" text-anchor="end" class="lb">R6</text>
<text x="33.2" y="283.9" text-anchor="end" class="lb">Z11</text>
<text x="39.9" y="297.4" text-anchor="middle" class="tk">0</text>
<text x="59.3" y="297.4" text-anchor="middle" class="tk">10</text>
<text x="83.6" y="297.4" text-anchor="middle" class="tk">20</text>
<text x="107.2" y="297.4" text-anchor="middle" class="tk">30</text>
<text x="130.4" y="297.4" text-anchor="middle" class="tk">40</text>
<text x="153.6" y="297.4" text-anchor="middle" class="tk">50</text>
<text x="176.9" y="297.4" text-anchor="middle" class="tk">60</text>
<text x="199.9" y="297.4" text-anchor="middle" class="tk">70</text>
<text x="224.0" y="297.4" text-anchor="middle" class="tk">80</text>
<text x="247.3" y="297.4" text-anchor="middle" class="tk">90</text>
<text x="270.6" y="297.4" text-anchor="middle" class="tk">100</text>
<text x="293.6" y="297.4" text-anchor="middle" class="tk">110</text>
<text x="316.3" y="297.4" text-anchor="middle" class="tk">120</text>
<text x="177" y="311.2" text-anchor="middle" class="ax">Days after recording</text>

<line x1="272" y1="59.4" x2="289" y2="59.4" stroke="#c8c8c8" stroke-width="1"/>
<circle cx="280.5" cy="59.4" r="2.3" fill="#0d5efc"/>
<text x="299" y="61.1" class="lg">Early</text>
<line x1="272" y1="73.0" x2="289" y2="73.0" stroke="#c8c8c8" stroke-width="1"/>
<circle cx="280.8" cy="73.0" r="2.3" fill="#c80000"/>
<text x="299" y="75.0" class="lg">Late</text>
<text x="250.6" y="137.8" class="sb" textLength="38" lengthAdjust="spacingAndGlyphs">10 seizures</text>
<path d="M293.5 132.4 V137.6 H302" fill="none" stroke="#111" stroke-width="0.9"/>
<text x="293.2" y="145.9" class="sb" textLength="22" lengthAdjust="spacingAndGlyphs">5 days</text>

<rect x="357.5" y="19.5" width="326.5" height="277.7" fill="#fff"/>
<rect x="393.5" y="19.5" width="125.4" height="277.7" fill="#dde9f5"/>
<rect x="518.9" y="19.5" width="124.3" height="277.7" fill="#fdeaea"/>
<rect x="357.5" y="34.3" width="36.0" height="39.0" fill="#efefef"/>
<rect x="643.2" y="34.3" width="40.8" height="39.0" fill="#efefef"/>
<rect x="357.5" y="88.23" width="36.0" height="14.93" fill="#efefef"/>
<rect x="643.2" y="88.23" width="40.8" height="14.93" fill="#efefef"/>
<rect x="357.5" y="118.08" width="36.0" height="14.93" fill="#efefef"/>
<rect x="643.2" y="118.08" width="40.8" height="14.93" fill="#efefef"/>
<rect x="357.5" y="147.93" width="36.0" height="14.93" fill="#efefef"/>
<rect x="643.2" y="147.93" width="40.8" height="14.93" fill="#efefef"/>
<rect x="357.5" y="177.79" width="36.0" height="14.93" fill="#efefef"/>
<rect x="643.2" y="177.79" width="40.8" height="14.93" fill="#efefef"/>
<rect x="357.5" y="207.64" width="36.0" height="14.93" fill="#efefef"/>
<rect x="643.2" y="207.64" width="40.8" height="14.93" fill="#efefef"/>
<rect x="357.5" y="237.49" width="36.0" height="14.93" fill="#efefef"/>
<rect x="643.2" y="237.49" width="40.8" height="14.93" fill="#efefef"/>
<rect x="357.5" y="267.35" width="36.0" height="14.93" fill="#efefef"/>
<rect x="643.2" y="267.35" width="40.8" height="14.93" fill="#efefef"/>
<g stroke="#cfcfcf" stroke-width="1" shape-rendering="crispEdges">
<line x1="357.5" x2="684.0" y1="19.50" y2="19.50"/>
<line x1="357.5" x2="684.0" y1="34.30" y2="34.30"/>
<line x1="434.5" x2="518.9" y1="49.60" y2="49.60"/>
<line x1="559.3" x2="643.2" y1="49.60" y2="49.60"/>
<line x1="357.5" x2="684.0" y1="73.30" y2="73.30"/>
<line x1="357.5" x2="684.0" y1="88.23" y2="88.23"/>
<line x1="357.5" x2="684.0" y1="103.15" y2="103.15"/>
<line x1="357.5" x2="684.0" y1="118.08" y2="118.08"/>
<line x1="357.5" x2="684.0" y1="133.01" y2="133.01"/>
<line x1="357.5" x2="684.0" y1="147.93" y2="147.93"/>
<line x1="357.5" x2="684.0" y1="162.86" y2="162.86"/>
<line x1="357.5" x2="684.0" y1="177.79" y2="177.79"/>
<line x1="357.5" x2="684.0" y1="192.71" y2="192.71"/>
<line x1="357.5" x2="684.0" y1="207.64" y2="207.64"/>
<line x1="357.5" x2="684.0" y1="222.57" y2="222.57"/>
<line x1="357.5" x2="684.0" y1="237.49" y2="237.49"/>
<line x1="357.5" x2="684.0" y1="252.42" y2="252.42"/>
<line x1="357.5" x2="684.0" y1="267.35" y2="267.35"/>
<line x1="357.5" x2="684.0" y1="282.27" y2="282.27"/>
<line x1="357.5" x2="684.0" y1="297.20" y2="297.20"/>
<line x1="357.5" x2="357.5" y1="19.50" y2="297.20"/>
<line x1="684.0" x2="684.0" y1="19.50" y2="297.20"/>
<line x1="393.5" x2="393.5" y1="19.50" y2="297.20"/>
<line x1="518.9" x2="518.9" y1="19.50" y2="297.20"/>
<line x1="643.2" x2="643.2" y1="19.50" y2="297.20"/>
<line x1="434.5" x2="434.5" y1="34.30" y2="297.20"/>
<line x1="559.3" x2="559.3" y1="34.30" y2="297.20"/>
<line x1="476.5" x2="476.5" y1="49.60" y2="297.20"/>
<line x1="601.3" x2="601.3" y1="49.60" y2="297.20"/>
</g>
<text x="375.50" y="30.90" text-anchor="middle" class="th">Rats</text>
<text x="456.20" y="30.90" text-anchor="middle" class="th">Early stage</text>
<text x="581.05" y="30.90" text-anchor="middle" class="th">Late stage</text>
<text transform="translate(414.00,45.80) scale(0.92,1)" text-anchor="middle" class="tdh">Days</text>
<text transform="translate(414.00,57.40) scale(0.92,1)" text-anchor="middle" class="tdh">after</text>
<text transform="translate(414.00,69.40) scale(0.92,1)" text-anchor="middle" class="tdh">recording</text>
<text transform="translate(476.70,45.30) scale(0.92,1)" text-anchor="middle" class="tdh">Seizure numbers</text>
<text transform="translate(455.50,64.50) scale(0.92,1)" text-anchor="middle" class="tdh">Seizure</text>
<text transform="translate(496.90,59.30) scale(0.92,1)" text-anchor="middle" class="tdh">Seizure</text>
<text transform="translate(496.90,69.20) scale(0.92,1)" text-anchor="middle" class="tdh" textLength="29.67" lengthAdjust="spacingAndGlyphs">(small)</text>
<text transform="translate(539.10,45.80) scale(0.92,1)" text-anchor="middle" class="tdh">Days</text>
<text transform="translate(539.10,57.40) scale(0.92,1)" text-anchor="middle" class="tdh">after</text>
<text transform="translate(539.10,69.40) scale(0.92,1)" text-anchor="middle" class="tdh">recording</text>
<text transform="translate(601.25,45.30) scale(0.92,1)" text-anchor="middle" class="tdh">Seizure numbers</text>
<text transform="translate(580.30,64.50) scale(0.92,1)" text-anchor="middle" class="tdh">Seizure</text>
<text transform="translate(621.45,59.30) scale(0.92,1)" text-anchor="middle" class="tdh">Seizure</text>
<text transform="translate(621.45,69.20) scale(0.92,1)" text-anchor="middle" class="tdh" textLength="29.67" lengthAdjust="spacingAndGlyphs">(small)</text>
<text transform="translate(663.60,45.30) scale(0.92,1)" text-anchor="middle" class="tdh">Early-</text>
<text transform="translate(663.60,57.30) scale(0.92,1)" text-anchor="middle" class="tdh">Late</text>
<text transform="translate(663.60,68.40) scale(0.92,1)" text-anchor="middle" class="tdh">interval/d</text>
<text transform="translate(375.80,84.60) scale(0.92,1)" text-anchor="middle" class="td">B6</text>
<text transform="translate(414.00,84.60) scale(0.92,1)" text-anchor="middle" class="td">4-10</text>
<text transform="translate(455.00,84.60) scale(0.92,1)" text-anchor="middle" class="td">30</text>
<text transform="translate(496.40,84.60) scale(0.92,1)" text-anchor="middle" class="td">0</text>
<text transform="translate(539.10,84.60) scale(0.92,1)" text-anchor="middle" class="td">70-76</text>
<text transform="translate(579.10,84.60) scale(0.92,1)" text-anchor="middle" class="td">19</text>
<text transform="translate(621.25,84.60) scale(0.92,1)" text-anchor="middle" class="td">0</text>
<text transform="translate(662.10,84.60) scale(0.92,1)" text-anchor="middle" class="td">60</text>
<text transform="translate(375.80,99.53) scale(0.92,1)" text-anchor="middle" class="td">C3</text>
<text transform="translate(414.00,99.53) scale(0.92,1)" text-anchor="middle" class="td">8-14</text>
<text transform="translate(455.00,99.53) scale(0.92,1)" text-anchor="middle" class="td">24</text>
<text transform="translate(496.40,99.53) scale(0.92,1)" text-anchor="middle" class="td">0</text>
<text transform="translate(539.10,99.53) scale(0.92,1)" text-anchor="middle" class="td">68-74</text>
<text transform="translate(579.10,99.53) scale(0.92,1)" text-anchor="middle" class="td">37</text>
<text transform="translate(621.25,99.53) scale(0.92,1)" text-anchor="middle" class="td">9</text>
<text transform="translate(662.10,99.53) scale(0.92,1)" text-anchor="middle" class="td">54</text>
<text transform="translate(375.80,114.45) scale(0.92,1)" text-anchor="middle" class="td">C13</text>
<text transform="translate(414.00,114.45) scale(0.92,1)" text-anchor="middle" class="td">3-9</text>
<text transform="translate(455.00,114.45) scale(0.92,1)" text-anchor="middle" class="td">5</text>
<text transform="translate(496.40,114.45) scale(0.92,1)" text-anchor="middle" class="td">1</text>
<text transform="translate(539.10,114.45) scale(0.92,1)" text-anchor="middle" class="td">40-46</text>
<text transform="translate(579.10,114.45) scale(0.92,1)" text-anchor="middle" class="td">4</text>
<text transform="translate(621.25,114.45) scale(0.92,1)" text-anchor="middle" class="td">7</text>
<text transform="translate(662.10,114.45) scale(0.92,1)" text-anchor="middle" class="td">31</text>
<text transform="translate(375.80,129.38) scale(0.92,1)" text-anchor="middle" class="td">C16</text>
<text transform="translate(414.00,129.38) scale(0.92,1)" text-anchor="middle" class="td">3-9</text>
<text transform="translate(455.00,129.38) scale(0.92,1)" text-anchor="middle" class="td">7</text>
<text transform="translate(496.40,129.38) scale(0.92,1)" text-anchor="middle" class="td">0</text>
<text transform="translate(539.10,129.38) scale(0.92,1)" text-anchor="middle" class="td">75-81</text>
<text transform="translate(579.10,129.38) scale(0.92,1)" text-anchor="middle" class="td">11</text>
<text transform="translate(621.25,129.38) scale(0.92,1)" text-anchor="middle" class="td">0</text>
<text transform="translate(662.10,129.38) scale(0.92,1)" text-anchor="middle" class="td">66</text>
<text transform="translate(375.80,144.31) scale(0.92,1)" text-anchor="middle" class="td">D17</text>
<text transform="translate(414.00,144.31) scale(0.92,1)" text-anchor="middle" class="td">8-14</text>
<text transform="translate(455.00,144.31) scale(0.92,1)" text-anchor="middle" class="td">19</text>
<text transform="translate(496.40,144.31) scale(0.92,1)" text-anchor="middle" class="td">0</text>
<text transform="translate(539.10,144.31) scale(0.92,1)" text-anchor="middle" class="td">71-77</text>
<text transform="translate(579.10,144.31) scale(0.92,1)" text-anchor="middle" class="td">24</text>
<text transform="translate(621.25,144.31) scale(0.92,1)" text-anchor="middle" class="td">0</text>
<text transform="translate(662.10,144.31) scale(0.92,1)" text-anchor="middle" class="td">57</text>
<text transform="translate(375.80,159.23) scale(0.92,1)" text-anchor="middle" class="td">E2</text>
<text transform="translate(414.00,159.23) scale(0.92,1)" text-anchor="middle" class="td">4-10</text>
<text transform="translate(455.00,159.23) scale(0.92,1)" text-anchor="middle" class="td">32</text>
<text transform="translate(496.40,159.23) scale(0.92,1)" text-anchor="middle" class="td">0</text>
<text transform="translate(539.10,159.23) scale(0.92,1)" text-anchor="middle" class="td">58-64</text>
<text transform="translate(579.10,159.23) scale(0.92,1)" text-anchor="middle" class="td">26</text>
<text transform="translate(621.25,159.23) scale(0.92,1)" text-anchor="middle" class="td">19</text>
<text transform="translate(662.10,159.23) scale(0.92,1)" text-anchor="middle" class="td">48</text>
<text transform="translate(375.80,174.16) scale(0.92,1)" text-anchor="middle" class="td">E5</text>
<text transform="translate(414.00,174.16) scale(0.92,1)" text-anchor="middle" class="td">5-11</text>
<text transform="translate(455.00,174.16) scale(0.92,1)" text-anchor="middle" class="td">38</text>
<text transform="translate(496.40,174.16) scale(0.92,1)" text-anchor="middle" class="td">0</text>
<text transform="translate(539.10,174.16) scale(0.92,1)" text-anchor="middle" class="td">56-62</text>
<text transform="translate(579.10,174.16) scale(0.92,1)" text-anchor="middle" class="td">75</text>
<text transform="translate(621.25,174.16) scale(0.92,1)" text-anchor="middle" class="td">0</text>
<text transform="translate(662.10,174.16) scale(0.92,1)" text-anchor="middle" class="td">45</text>
<text transform="translate(375.80,189.09) scale(0.92,1)" text-anchor="middle" class="td">I4</text>
<text transform="translate(414.00,189.09) scale(0.92,1)" text-anchor="middle" class="td">4-10</text>
<text transform="translate(455.00,189.09) scale(0.92,1)" text-anchor="middle" class="td">7</text>
<text transform="translate(496.40,189.09) scale(0.92,1)" text-anchor="middle" class="td">0</text>
<text transform="translate(539.10,189.09) scale(0.92,1)" text-anchor="middle" class="td">91-97</text>
<text transform="translate(579.10,189.09) scale(0.92,1)" text-anchor="middle" class="td">14</text>
<text transform="translate(621.25,189.09) scale(0.92,1)" text-anchor="middle" class="td">0</text>
<text transform="translate(662.10,189.09) scale(0.92,1)" text-anchor="middle" class="td">81</text>
<text transform="translate(375.80,204.01) scale(0.92,1)" text-anchor="middle" class="td">I7</text>
<text transform="translate(414.00,204.01) scale(0.92,1)" text-anchor="middle" class="td">4-10</text>
<text transform="translate(455.00,204.01) scale(0.92,1)" text-anchor="middle" class="td">8</text>
<text transform="translate(496.40,204.01) scale(0.92,1)" text-anchor="middle" class="td">0</text>
<text transform="translate(539.10,204.01) scale(0.92,1)" text-anchor="middle" class="td">60-66</text>
<text transform="translate(579.10,204.01) scale(0.92,1)" text-anchor="middle" class="td">4</text>
<text transform="translate(621.25,204.01) scale(0.92,1)" text-anchor="middle" class="td">0</text>
<text transform="translate(662.10,204.01) scale(0.92,1)" text-anchor="middle" class="td">50</text>
<text transform="translate(375.80,218.94) scale(0.92,1)" text-anchor="middle" class="td">I8</text>
<text transform="translate(414.00,218.94) scale(0.92,1)" text-anchor="middle" class="td">2-8</text>
<text transform="translate(455.00,218.94) scale(0.92,1)" text-anchor="middle" class="td">5</text>
<text transform="translate(496.40,218.94) scale(0.92,1)" text-anchor="middle" class="td">0</text>
<text transform="translate(539.10,218.94) scale(0.92,1)" text-anchor="middle" class="td">70-76</text>
<text transform="translate(579.10,218.94) scale(0.92,1)" text-anchor="middle" class="td">23</text>
<text transform="translate(621.25,218.94) scale(0.92,1)" text-anchor="middle" class="td">3</text>
<text transform="translate(662.10,218.94) scale(0.92,1)" text-anchor="middle" class="td">62</text>
<text transform="translate(375.80,233.87) scale(0.92,1)" text-anchor="middle" class="td">R2</text>
<text transform="translate(414.00,233.87) scale(0.92,1)" text-anchor="middle" class="td">8-14</text>
<text transform="translate(455.00,233.87) scale(0.92,1)" text-anchor="middle" class="td">25</text>
<text transform="translate(496.40,233.87) scale(0.92,1)" text-anchor="middle" class="td">0</text>
<text transform="translate(539.10,233.87) scale(0.92,1)" text-anchor="middle" class="td">84-90</text>
<text transform="translate(579.10,233.87) scale(0.92,1)" text-anchor="middle" class="td">61</text>
<text transform="translate(621.25,233.87) scale(0.92,1)" text-anchor="middle" class="td">0</text>
<text transform="translate(662.10,233.87) scale(0.92,1)" text-anchor="middle" class="td">70</text>
<text transform="translate(375.80,248.79) scale(0.92,1)" text-anchor="middle" class="td">R3</text>
<text transform="translate(414.00,248.79) scale(0.92,1)" text-anchor="middle" class="td">5-11</text>
<text transform="translate(455.00,248.79) scale(0.92,1)" text-anchor="middle" class="td">21</text>
<text transform="translate(496.40,248.79) scale(0.92,1)" text-anchor="middle" class="td">0</text>
<text transform="translate(539.10,248.79) scale(0.92,1)" text-anchor="middle" class="td">65-71</text>
<text transform="translate(579.10,248.79) scale(0.92,1)" text-anchor="middle" class="td">109</text>
<text transform="translate(621.25,248.79) scale(0.92,1)" text-anchor="middle" class="td">0</text>
<text transform="translate(662.10,248.79) scale(0.92,1)" text-anchor="middle" class="td">54</text>
<text transform="translate(375.80,263.72) scale(0.92,1)" text-anchor="middle" class="td">R5</text>
<text transform="translate(414.00,263.72) scale(0.92,1)" text-anchor="middle" class="td">4-10</text>
<text transform="translate(455.00,263.72) scale(0.92,1)" text-anchor="middle" class="td">29</text>
<text transform="translate(496.40,263.72) scale(0.92,1)" text-anchor="middle" class="td">0</text>
<text transform="translate(539.10,263.72) scale(0.92,1)" text-anchor="middle" class="td">62-68</text>
<text transform="translate(579.10,263.72) scale(0.92,1)" text-anchor="middle" class="td">17</text>
<text transform="translate(621.25,263.72) scale(0.92,1)" text-anchor="middle" class="td">0</text>
<text transform="translate(662.10,263.72) scale(0.92,1)" text-anchor="middle" class="td">52</text>
<text transform="translate(375.80,278.65) scale(0.92,1)" text-anchor="middle" class="td">R6</text>
<text transform="translate(414.00,278.65) scale(0.92,1)" text-anchor="middle" class="td">5-11</text>
<text transform="translate(455.00,278.65) scale(0.92,1)" text-anchor="middle" class="td">9</text>
<text transform="translate(496.40,278.65) scale(0.92,1)" text-anchor="middle" class="td">0</text>
<text transform="translate(539.10,278.65) scale(0.92,1)" text-anchor="middle" class="td">92-98</text>
<text transform="translate(579.10,278.65) scale(0.92,1)" text-anchor="middle" class="td">12</text>
<text transform="translate(621.25,278.65) scale(0.92,1)" text-anchor="middle" class="td">0</text>
<text transform="translate(662.10,278.65) scale(0.92,1)" text-anchor="middle" class="td">81</text>
<text transform="translate(375.80,293.57) scale(0.92,1)" text-anchor="middle" class="td">Z11</text>
<text transform="translate(414.00,293.57) scale(0.92,1)" text-anchor="middle" class="td">12-18</text>
<text transform="translate(455.00,293.57) scale(0.92,1)" text-anchor="middle" class="td">18</text>
<text transform="translate(496.40,293.57) scale(0.92,1)" text-anchor="middle" class="td">0</text>
<text transform="translate(539.10,293.57) scale(0.92,1)" text-anchor="middle" class="td">73-79</text>
<text transform="translate(579.10,293.57) scale(0.92,1)" text-anchor="middle" class="td">4</text>
<text transform="translate(621.25,293.57) scale(0.92,1)" text-anchor="middle" class="td">0</text>
<text transform="translate(662.10,293.57) scale(0.92,1)" text-anchor="middle" class="td">55</text>
</svg>
</body></html>
